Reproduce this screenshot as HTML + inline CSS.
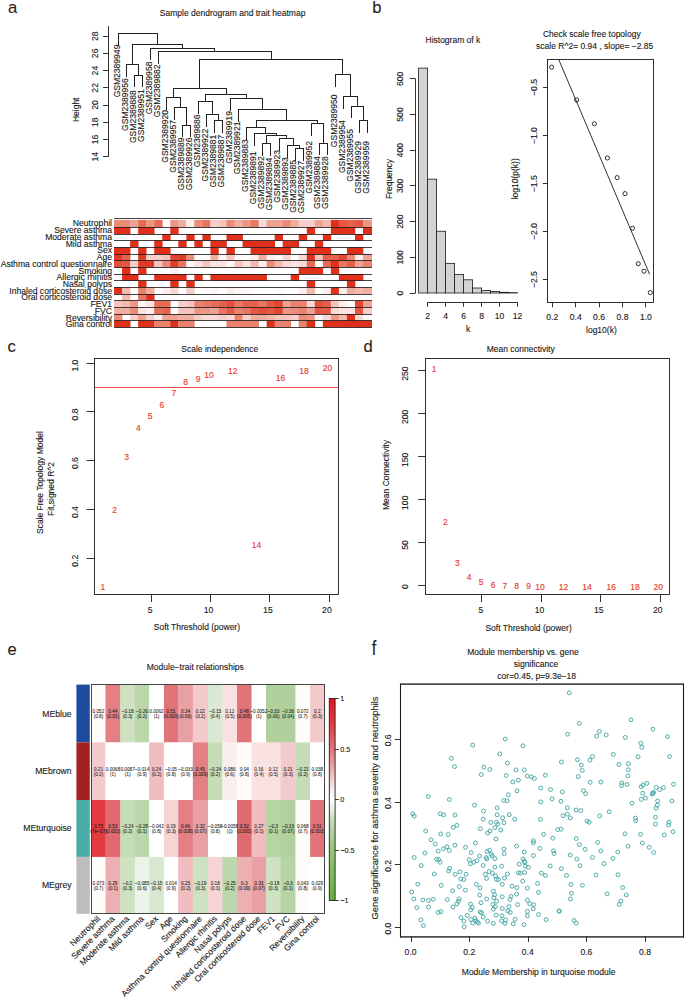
<!DOCTYPE html>
<html><head><meta charset="utf-8"><style>
html,body{margin:0;padding:0;background:#fff;}
svg{display:block;}
text{font-family:"Liberation Sans", sans-serif;}
</style></head><body>
<svg width="685" height="998" viewBox="0 0 685 998">
<rect width="685" height="998" fill="#fff"/>
<g fill="#2d1e19" stroke="#2d1e19" stroke-width="0.12" font-size="16.6">
<text x="7.9" y="13.0">a</text>
<text x="372.3" y="12.8">b</text>
<text x="7.6" y="352.2">c</text>
<text x="363.5" y="352.0">d</text>
<text x="7.5" y="655.2">e</text>
<text x="371.8" y="0" transform="translate(0 654.9) scale(1 1.24)">f</text>
</g>
<text x="232.60" y="12.80" font-size="8.5" text-anchor="middle" dominant-baseline="central" fill="#1a1a1a" stroke="#1a1a1a" stroke-width="0.12">Sample dendrogram and trait heatmap</text>
<line x1="108.50" y1="26.10" x2="108.50" y2="156.80" stroke="#1a1a1a" stroke-width="0.9"/>
<line x1="103.10" y1="156.50" x2="108.50" y2="156.50" stroke="#1a1a1a" stroke-width="0.9"/>
<text x="94.60" y="156.80" font-size="8.6" text-anchor="middle" dominant-baseline="central" fill="#1a1a1a" stroke="#1a1a1a" stroke-width="0.12" transform="rotate(-90 94.60 156.80)">14</text>
<line x1="103.10" y1="139.50" x2="108.50" y2="139.50" stroke="#1a1a1a" stroke-width="0.9"/>
<text x="94.60" y="139.56" font-size="8.6" text-anchor="middle" dominant-baseline="central" fill="#1a1a1a" stroke="#1a1a1a" stroke-width="0.12" transform="rotate(-90 94.60 139.56)">16</text>
<line x1="103.10" y1="122.50" x2="108.50" y2="122.50" stroke="#1a1a1a" stroke-width="0.9"/>
<text x="94.60" y="122.32" font-size="8.6" text-anchor="middle" dominant-baseline="central" fill="#1a1a1a" stroke="#1a1a1a" stroke-width="0.12" transform="rotate(-90 94.60 122.32)">18</text>
<line x1="103.10" y1="105.50" x2="108.50" y2="105.50" stroke="#1a1a1a" stroke-width="0.9"/>
<text x="94.60" y="105.08" font-size="8.6" text-anchor="middle" dominant-baseline="central" fill="#1a1a1a" stroke="#1a1a1a" stroke-width="0.12" transform="rotate(-90 94.60 105.08)">20</text>
<line x1="103.10" y1="87.50" x2="108.50" y2="87.50" stroke="#1a1a1a" stroke-width="0.9"/>
<text x="94.60" y="87.84" font-size="8.6" text-anchor="middle" dominant-baseline="central" fill="#1a1a1a" stroke="#1a1a1a" stroke-width="0.12" transform="rotate(-90 94.60 87.84)">22</text>
<line x1="103.10" y1="70.50" x2="108.50" y2="70.50" stroke="#1a1a1a" stroke-width="0.9"/>
<text x="94.60" y="70.60" font-size="8.6" text-anchor="middle" dominant-baseline="central" fill="#1a1a1a" stroke="#1a1a1a" stroke-width="0.12" transform="rotate(-90 94.60 70.60)">24</text>
<line x1="103.10" y1="53.50" x2="108.50" y2="53.50" stroke="#1a1a1a" stroke-width="0.9"/>
<text x="94.60" y="53.36" font-size="8.6" text-anchor="middle" dominant-baseline="central" fill="#1a1a1a" stroke="#1a1a1a" stroke-width="0.12" transform="rotate(-90 94.60 53.36)">26</text>
<line x1="103.10" y1="36.50" x2="108.50" y2="36.50" stroke="#1a1a1a" stroke-width="0.9"/>
<text x="94.60" y="36.12" font-size="8.6" text-anchor="middle" dominant-baseline="central" fill="#1a1a1a" stroke="#1a1a1a" stroke-width="0.12" transform="rotate(-90 94.60 36.12)">28</text>
<text x="76.10" y="109.80" font-size="8.5" text-anchor="middle" dominant-baseline="central" fill="#1a1a1a" stroke="#1a1a1a" stroke-width="0.12" transform="rotate(-90 76.10 109.80)">Height</text>
<path d="M118.50 33.50L118.50 45.50 M126.50 64.50L126.50 76.50 M134.50 75.50L134.50 86.50 M142.50 75.50L142.50 86.50 M134.50 75.50L142.50 75.50 M138.50 64.50L138.50 75.50 M126.50 64.50L138.50 64.50 M132.50 44.50L132.50 64.50 M150.50 48.50L150.50 59.50 M158.50 51.50L158.50 63.50 M166.50 97.50L166.50 109.50 M174.50 107.50L174.50 119.50 M182.50 125.50L182.50 136.50 M190.50 125.50L190.50 136.50 M182.50 125.50L190.50 125.50 M186.50 107.50L186.50 125.50 M174.50 107.50L186.50 107.50 M180.50 97.50L180.50 107.50 M166.50 97.50L180.50 97.50 M173.50 88.50L173.50 97.50 M198.50 101.50L198.50 113.50 M206.50 114.50L206.50 126.50 M214.50 120.50L214.50 132.50 M222.50 120.50L222.50 132.50 M214.50 120.50L222.50 120.50 M218.50 114.50L218.50 120.50 M206.50 114.50L218.50 114.50 M212.50 101.50L212.50 114.50 M198.50 101.50L212.50 101.50 M205.50 94.50L205.50 101.50 M230.50 98.50L230.50 110.50 M238.50 109.50L238.50 121.50 M246.50 127.50L246.50 139.50 M254.50 133.50L254.50 145.50 M262.50 143.50L262.50 155.50 M270.50 143.50L270.50 155.50 M262.50 143.50L270.50 143.50 M266.50 135.50L266.50 143.50 M279.50 138.50L279.50 150.50 M287.50 145.50L287.50 157.50 M295.50 148.50L295.50 160.50 M303.50 148.50L303.50 160.50 M295.50 148.50L303.50 148.50 M299.50 145.50L299.50 148.50 M287.50 145.50L299.50 145.50 M293.50 138.50L293.50 145.50 M279.50 138.50L293.50 138.50 M286.50 135.50L286.50 138.50 M266.50 135.50L286.50 135.50 M276.50 133.50L276.50 135.50 M254.50 133.50L276.50 133.50 M265.50 127.50L265.50 133.50 M246.50 127.50L265.50 127.50 M256.50 120.50L256.50 127.50 M311.50 123.50L311.50 135.50 M319.50 143.50L319.50 154.50 M327.50 143.50L327.50 154.50 M319.50 143.50L327.50 143.50 M323.50 123.50L323.50 143.50 M311.50 123.50L323.50 123.50 M317.50 120.50L317.50 123.50 M256.50 120.50L317.50 120.50 M286.50 109.50L286.50 120.50 M238.50 109.50L286.50 109.50 M262.50 98.50L262.50 109.50 M230.50 98.50L262.50 98.50 M246.50 94.50L246.50 98.50 M205.50 94.50L246.50 94.50 M226.50 88.50L226.50 94.50 M173.50 88.50L226.50 88.50 M199.50 59.50L199.50 88.50 M335.50 74.50L335.50 86.50 M343.50 96.50L343.50 108.50 M351.50 106.50L351.50 117.50 M359.50 120.50L359.50 132.50 M367.50 120.50L367.50 132.50 M359.50 120.50L367.50 120.50 M363.50 106.50L363.50 120.50 M351.50 106.50L363.50 106.50 M357.50 96.50L357.50 106.50 M343.50 96.50L357.50 96.50 M350.50 74.50L350.50 96.50 M335.50 74.50L350.50 74.50 M342.50 59.50L342.50 74.50 M199.50 59.50L342.50 59.50 M271.50 51.50L271.50 59.50 M158.50 51.50L271.50 51.50 M214.50 48.50L214.50 51.50 M150.50 48.50L214.50 48.50 M182.50 44.50L182.50 48.50 M132.50 44.50L182.50 44.50 M157.50 33.50L157.50 44.50 M118.50 33.50L157.50 33.50" stroke="#222" stroke-width="1.0" fill="none" stroke-linecap="square"/>
<text x="116.70" y="44.60" font-size="8.55" text-anchor="end" dominant-baseline="central" fill="#1a1a1a" stroke="#1a1a1a" stroke-width="0.12" transform="rotate(-90 116.70 44.60)">GSM2389949</text>
<text x="124.73" y="78.20" font-size="8.55" text-anchor="end" dominant-baseline="central" fill="#1a1a1a" stroke="#1a1a1a" stroke-width="0.12" transform="rotate(-90 124.73 78.20)">GSM2389956</text>
<text x="132.76" y="90.30" font-size="8.55" text-anchor="end" dominant-baseline="central" fill="#1a1a1a" stroke="#1a1a1a" stroke-width="0.12" transform="rotate(-90 132.76 90.30)">GSM2389888</text>
<text x="140.79" y="89.20" font-size="8.55" text-anchor="end" dominant-baseline="central" fill="#1a1a1a" stroke="#1a1a1a" stroke-width="0.12" transform="rotate(-90 140.79 89.20)">GSM2389951</text>
<text x="148.82" y="61.60" font-size="8.55" text-anchor="end" dominant-baseline="central" fill="#1a1a1a" stroke="#1a1a1a" stroke-width="0.12" transform="rotate(-90 148.82 61.60)">GSM2389958</text>
<text x="156.85" y="64.40" font-size="8.55" text-anchor="end" dominant-baseline="central" fill="#1a1a1a" stroke="#1a1a1a" stroke-width="0.12" transform="rotate(-90 156.85 64.40)">GSM2389882</text>
<text x="164.88" y="110.00" font-size="8.55" text-anchor="end" dominant-baseline="central" fill="#1a1a1a" stroke="#1a1a1a" stroke-width="0.12" transform="rotate(-90 164.88 110.00)">GSM2389920</text>
<text x="172.91" y="119.90" font-size="8.55" text-anchor="end" dominant-baseline="central" fill="#1a1a1a" stroke="#1a1a1a" stroke-width="0.12" transform="rotate(-90 172.91 119.90)">GSM2389957</text>
<text x="180.94" y="137.60" font-size="8.55" text-anchor="end" dominant-baseline="central" fill="#1a1a1a" stroke="#1a1a1a" stroke-width="0.12" transform="rotate(-90 180.94 137.60)">GSM2389889</text>
<text x="188.97" y="137.60" font-size="8.55" text-anchor="end" dominant-baseline="central" fill="#1a1a1a" stroke="#1a1a1a" stroke-width="0.12" transform="rotate(-90 188.97 137.60)">GSM2389926</text>
<text x="197.00" y="114.40" font-size="8.55" text-anchor="end" dominant-baseline="central" fill="#1a1a1a" stroke="#1a1a1a" stroke-width="0.12" transform="rotate(-90 197.00 114.40)">GSM2389886</text>
<text x="205.03" y="128.70" font-size="8.55" text-anchor="end" dominant-baseline="central" fill="#1a1a1a" stroke="#1a1a1a" stroke-width="0.12" transform="rotate(-90 205.03 128.70)">GSM2389922</text>
<text x="213.06" y="134.80" font-size="8.55" text-anchor="end" dominant-baseline="central" fill="#1a1a1a" stroke="#1a1a1a" stroke-width="0.12" transform="rotate(-90 213.06 134.80)">GSM2389881</text>
<text x="221.09" y="134.80" font-size="8.55" text-anchor="end" dominant-baseline="central" fill="#1a1a1a" stroke="#1a1a1a" stroke-width="0.12" transform="rotate(-90 221.09 134.80)">GSM2389887</text>
<text x="229.12" y="111.10" font-size="8.55" text-anchor="end" dominant-baseline="central" fill="#1a1a1a" stroke="#1a1a1a" stroke-width="0.12" transform="rotate(-90 229.12 111.10)">GSM2389919</text>
<text x="237.15" y="121.60" font-size="8.55" text-anchor="end" dominant-baseline="central" fill="#1a1a1a" stroke="#1a1a1a" stroke-width="0.12" transform="rotate(-90 237.15 121.60)">GSM2389921</text>
<text x="245.18" y="139.20" font-size="8.55" text-anchor="end" dominant-baseline="central" fill="#1a1a1a" stroke="#1a1a1a" stroke-width="0.12" transform="rotate(-90 245.18 139.20)">GSM2389883</text>
<text x="253.21" y="151.50" font-size="8.55" text-anchor="end" dominant-baseline="central" fill="#1a1a1a" stroke="#1a1a1a" stroke-width="0.12" transform="rotate(-90 253.21 151.50)">GSM2389891</text>
<text x="261.24" y="156.30" font-size="8.55" text-anchor="end" dominant-baseline="central" fill="#1a1a1a" stroke="#1a1a1a" stroke-width="0.12" transform="rotate(-90 261.24 156.30)">GSM2389892</text>
<text x="269.27" y="157.70" font-size="8.55" text-anchor="end" dominant-baseline="central" fill="#1a1a1a" stroke="#1a1a1a" stroke-width="0.12" transform="rotate(-90 269.27 157.70)">GSM2389894</text>
<text x="277.30" y="150.10" font-size="8.55" text-anchor="end" dominant-baseline="central" fill="#1a1a1a" stroke="#1a1a1a" stroke-width="0.12" transform="rotate(-90 277.30 150.10)">GSM2389923</text>
<text x="285.33" y="157.20" font-size="8.55" text-anchor="end" dominant-baseline="central" fill="#1a1a1a" stroke="#1a1a1a" stroke-width="0.12" transform="rotate(-90 285.33 157.20)">GSM2389893</text>
<text x="293.36" y="160.10" font-size="8.55" text-anchor="end" dominant-baseline="central" fill="#1a1a1a" stroke="#1a1a1a" stroke-width="0.12" transform="rotate(-90 293.36 160.10)">GSM2389885</text>
<text x="301.39" y="160.60" font-size="8.55" text-anchor="end" dominant-baseline="central" fill="#1a1a1a" stroke="#1a1a1a" stroke-width="0.12" transform="rotate(-90 301.39 160.60)">GSM2389927</text>
<text x="309.42" y="141.00" font-size="8.55" text-anchor="end" dominant-baseline="central" fill="#1a1a1a" stroke="#1a1a1a" stroke-width="0.12" transform="rotate(-90 309.42 141.00)">GSM2389952</text>
<text x="317.45" y="156.30" font-size="8.55" text-anchor="end" dominant-baseline="central" fill="#1a1a1a" stroke="#1a1a1a" stroke-width="0.12" transform="rotate(-90 317.45 156.30)">GSM2389884</text>
<text x="325.48" y="156.30" font-size="8.55" text-anchor="end" dominant-baseline="central" fill="#1a1a1a" stroke="#1a1a1a" stroke-width="0.12" transform="rotate(-90 325.48 156.30)">GSM2389928</text>
<text x="333.51" y="94.40" font-size="8.55" text-anchor="end" dominant-baseline="central" fill="#1a1a1a" stroke="#1a1a1a" stroke-width="0.12" transform="rotate(-90 333.51 94.40)">GSM2389950</text>
<text x="341.54" y="120.30" font-size="8.55" text-anchor="end" dominant-baseline="central" fill="#1a1a1a" stroke="#1a1a1a" stroke-width="0.12" transform="rotate(-90 341.54 120.30)">GSM2389954</text>
<text x="349.57" y="129.00" font-size="8.55" text-anchor="end" dominant-baseline="central" fill="#1a1a1a" stroke="#1a1a1a" stroke-width="0.12" transform="rotate(-90 349.57 129.00)">GSM2389955</text>
<text x="357.60" y="141.10" font-size="8.55" text-anchor="end" dominant-baseline="central" fill="#1a1a1a" stroke="#1a1a1a" stroke-width="0.12" transform="rotate(-90 357.60 141.10)">GSM2389929</text>
<text x="365.63" y="141.10" font-size="8.55" text-anchor="end" dominant-baseline="central" fill="#1a1a1a" stroke="#1a1a1a" stroke-width="0.12" transform="rotate(-90 365.63 141.10)">GSM2389959</text>
<rect x="114.05" y="219.90" width="16.41" height="7.45" fill="rgb(234,140,120)"/>
<rect x="130.11" y="219.90" width="8.38" height="7.45" fill="rgb(238,162,147)"/>
<rect x="138.14" y="219.90" width="8.38" height="7.45" fill="rgb(231,108,86)"/>
<rect x="146.17" y="219.90" width="8.38" height="7.45" fill="rgb(236,151,134)"/>
<rect x="154.20" y="219.90" width="8.38" height="7.45" fill="rgb(231,108,86)"/>
<rect x="170.26" y="219.90" width="8.38" height="7.45" fill="rgb(236,151,134)"/>
<rect x="178.29" y="219.90" width="8.38" height="7.45" fill="rgb(240,174,161)"/>
<rect x="186.32" y="219.90" width="8.38" height="7.45" fill="rgb(252,238,236)"/>
<rect x="194.35" y="219.90" width="8.38" height="7.45" fill="rgb(234,140,120)"/>
<rect x="202.38" y="219.90" width="8.38" height="7.45" fill="rgb(232,118,98)"/>
<rect x="210.41" y="219.90" width="8.38" height="7.45" fill="rgb(247,207,202)"/>
<rect x="218.44" y="219.90" width="8.38" height="7.45" fill="rgb(245,196,188)"/>
<rect x="226.47" y="219.90" width="8.38" height="7.45" fill="rgb(234,140,120)"/>
<rect x="234.50" y="219.90" width="8.38" height="7.45" fill="rgb(240,174,161)"/>
<rect x="242.53" y="219.90" width="8.38" height="7.45" fill="rgb(236,151,134)"/>
<rect x="250.56" y="219.90" width="8.38" height="7.45" fill="rgb(232,118,98)"/>
<rect x="258.59" y="219.90" width="8.38" height="7.45" fill="rgb(249,217,213)"/>
<rect x="266.62" y="219.90" width="16.41" height="7.45" fill="rgb(238,162,147)"/>
<rect x="282.68" y="219.90" width="8.38" height="7.45" fill="rgb(234,140,120)"/>
<rect x="290.71" y="219.90" width="8.38" height="7.45" fill="rgb(240,174,161)"/>
<rect x="298.74" y="219.90" width="16.41" height="7.45" fill="rgb(247,207,202)"/>
<rect x="314.80" y="219.90" width="8.38" height="7.45" fill="rgb(238,162,147)"/>
<rect x="322.83" y="219.90" width="8.38" height="7.45" fill="rgb(243,185,175)"/>
<rect x="330.86" y="219.90" width="8.38" height="7.45" fill="rgb(224,48,28)"/>
<rect x="338.89" y="219.90" width="8.38" height="7.45" fill="rgb(229,87,66)"/>
<rect x="346.92" y="219.90" width="8.38" height="7.45" fill="rgb(230,97,75)"/>
<rect x="354.95" y="219.90" width="8.38" height="7.45" fill="rgb(229,87,66)"/>
<rect x="362.98" y="219.90" width="9.02" height="7.45" fill="rgb(236,151,134)"/>
<text x="112.00" y="223.03" font-size="8.6" text-anchor="end" dominant-baseline="central" fill="#1a1a1a" stroke="#1a1a1a" stroke-width="0.12">Neutrophil</text>
<rect x="114.05" y="227.35" width="16.41" height="6.67" fill="rgb(224,48,28)"/>
<rect x="138.14" y="227.35" width="16.41" height="6.67" fill="rgb(224,48,28)"/>
<rect x="170.26" y="227.35" width="8.38" height="6.67" fill="rgb(224,48,28)"/>
<rect x="306.77" y="227.35" width="8.38" height="6.67" fill="rgb(224,48,28)"/>
<rect x="330.86" y="227.35" width="24.44" height="6.67" fill="rgb(224,48,28)"/>
<rect x="362.98" y="227.35" width="9.02" height="6.67" fill="rgb(224,48,28)"/>
<text x="112.00" y="230.14" font-size="8.6" text-anchor="end" dominant-baseline="central" fill="#1a1a1a" stroke="#1a1a1a" stroke-width="0.12">Severe asthma</text>
<rect x="162.23" y="234.02" width="8.38" height="6.67" fill="rgb(224,48,28)"/>
<rect x="186.32" y="234.02" width="8.38" height="6.67" fill="rgb(224,48,28)"/>
<rect x="202.38" y="234.02" width="8.38" height="6.67" fill="rgb(224,48,28)"/>
<rect x="226.47" y="234.02" width="16.41" height="6.67" fill="rgb(224,48,28)"/>
<rect x="274.65" y="234.02" width="8.38" height="6.67" fill="rgb(224,48,28)"/>
<rect x="298.74" y="234.02" width="8.38" height="6.67" fill="rgb(224,48,28)"/>
<rect x="322.83" y="234.02" width="8.38" height="6.67" fill="rgb(224,48,28)"/>
<rect x="354.95" y="234.02" width="8.38" height="6.67" fill="rgb(224,48,28)"/>
<text x="112.00" y="236.87" font-size="8.6" text-anchor="end" dominant-baseline="central" fill="#1a1a1a" stroke="#1a1a1a" stroke-width="0.12">Moderate asthma</text>
<rect x="130.11" y="240.68" width="8.38" height="6.67" fill="rgb(224,48,28)"/>
<rect x="154.20" y="240.68" width="8.38" height="6.67" fill="rgb(224,48,28)"/>
<rect x="178.29" y="240.68" width="8.38" height="6.67" fill="rgb(224,48,28)"/>
<rect x="194.35" y="240.68" width="8.38" height="6.67" fill="rgb(224,48,28)"/>
<rect x="210.41" y="240.68" width="16.41" height="6.67" fill="rgb(224,48,28)"/>
<rect x="242.53" y="240.68" width="32.47" height="6.67" fill="rgb(224,48,28)"/>
<rect x="282.68" y="240.68" width="16.41" height="6.67" fill="rgb(224,48,28)"/>
<rect x="314.80" y="240.68" width="8.38" height="6.67" fill="rgb(224,48,28)"/>
<text x="112.00" y="243.60" font-size="8.6" text-anchor="end" dominant-baseline="central" fill="#1a1a1a" stroke="#1a1a1a" stroke-width="0.12">Mild asthma</text>
<rect x="114.05" y="247.35" width="16.41" height="6.67" fill="rgb(224,48,28)"/>
<rect x="138.14" y="247.35" width="8.38" height="6.67" fill="rgb(224,48,28)"/>
<rect x="154.20" y="247.35" width="16.41" height="6.67" fill="rgb(224,48,28)"/>
<rect x="210.41" y="247.35" width="8.38" height="6.67" fill="rgb(224,48,28)"/>
<rect x="226.47" y="247.35" width="8.38" height="6.67" fill="rgb(224,48,28)"/>
<rect x="250.56" y="247.35" width="40.50" height="6.67" fill="rgb(224,48,28)"/>
<rect x="306.77" y="247.35" width="24.44" height="6.67" fill="rgb(224,48,28)"/>
<rect x="346.92" y="247.35" width="16.41" height="6.67" fill="rgb(224,48,28)"/>
<text x="112.00" y="250.32" font-size="8.6" text-anchor="end" dominant-baseline="central" fill="#1a1a1a" stroke="#1a1a1a" stroke-width="0.12">Sex</text>
<rect x="114.05" y="254.02" width="8.38" height="6.67" fill="rgb(225,58,37)"/>
<rect x="122.08" y="254.02" width="8.38" height="6.67" fill="rgb(230,97,75)"/>
<rect x="138.14" y="254.02" width="8.38" height="6.67" fill="rgb(225,58,37)"/>
<rect x="146.17" y="254.02" width="16.41" height="6.67" fill="rgb(247,207,202)"/>
<rect x="162.23" y="254.02" width="8.38" height="6.67" fill="rgb(245,196,188)"/>
<rect x="170.26" y="254.02" width="8.38" height="6.67" fill="rgb(226,68,47)"/>
<rect x="178.29" y="254.02" width="8.38" height="6.67" fill="rgb(225,58,37)"/>
<rect x="186.32" y="254.02" width="8.38" height="6.67" fill="rgb(234,140,120)"/>
<rect x="194.35" y="254.02" width="8.38" height="6.67" fill="rgb(254,252,251)"/>
<rect x="210.41" y="254.02" width="8.38" height="6.67" fill="rgb(240,174,161)"/>
<rect x="218.44" y="254.02" width="8.38" height="6.67" fill="rgb(254,246,246)"/>
<rect x="226.47" y="254.02" width="8.38" height="6.67" fill="rgb(245,196,188)"/>
<rect x="234.50" y="254.02" width="8.38" height="6.67" fill="rgb(254,250,249)"/>
<rect x="250.56" y="254.02" width="8.38" height="6.67" fill="rgb(252,238,236)"/>
<rect x="258.59" y="254.02" width="8.38" height="6.67" fill="rgb(240,174,161)"/>
<rect x="266.62" y="254.02" width="8.38" height="6.67" fill="rgb(252,238,236)"/>
<rect x="274.65" y="254.02" width="8.38" height="6.67" fill="rgb(254,250,249)"/>
<rect x="282.68" y="254.02" width="8.38" height="6.67" fill="rgb(249,217,213)"/>
<rect x="298.74" y="254.02" width="8.38" height="6.67" fill="rgb(249,217,213)"/>
<rect x="306.77" y="254.02" width="8.38" height="6.67" fill="rgb(224,48,28)"/>
<rect x="314.80" y="254.02" width="8.38" height="6.67" fill="rgb(245,196,188)"/>
<rect x="322.83" y="254.02" width="16.41" height="6.67" fill="rgb(230,97,75)"/>
<rect x="338.89" y="254.02" width="8.38" height="6.67" fill="rgb(226,68,47)"/>
<rect x="346.92" y="254.02" width="8.38" height="6.67" fill="rgb(234,140,120)"/>
<rect x="354.95" y="254.02" width="8.38" height="6.67" fill="rgb(252,238,236)"/>
<rect x="362.98" y="254.02" width="9.02" height="6.67" fill="rgb(238,162,147)"/>
<text x="112.00" y="257.05" font-size="8.6" text-anchor="end" dominant-baseline="central" fill="#1a1a1a" stroke="#1a1a1a" stroke-width="0.12">Age</text>
<rect x="114.05" y="260.69" width="8.38" height="6.67" fill="rgb(228,77,56)"/>
<rect x="122.08" y="260.69" width="8.38" height="6.67" fill="rgb(229,87,66)"/>
<rect x="130.11" y="260.69" width="8.38" height="6.67" fill="rgb(247,207,202)"/>
<rect x="138.14" y="260.69" width="16.41" height="6.67" fill="rgb(225,58,37)"/>
<rect x="154.20" y="260.69" width="8.38" height="6.67" fill="rgb(245,196,188)"/>
<rect x="162.23" y="260.69" width="8.38" height="6.67" fill="rgb(234,140,120)"/>
<rect x="170.26" y="260.69" width="8.38" height="6.67" fill="rgb(225,58,37)"/>
<rect x="178.29" y="260.69" width="8.38" height="6.67" fill="rgb(232,118,98)"/>
<rect x="186.32" y="260.69" width="8.38" height="6.67" fill="rgb(254,246,246)"/>
<rect x="194.35" y="260.69" width="8.38" height="6.67" fill="rgb(250,228,225)"/>
<rect x="202.38" y="260.69" width="8.38" height="6.67" fill="rgb(245,196,188)"/>
<rect x="210.41" y="260.69" width="16.41" height="6.67" fill="rgb(250,228,225)"/>
<rect x="226.47" y="260.69" width="8.38" height="6.67" fill="rgb(254,246,246)"/>
<rect x="234.50" y="260.69" width="8.38" height="6.67" fill="rgb(245,196,188)"/>
<rect x="242.53" y="260.69" width="8.38" height="6.67" fill="rgb(250,228,225)"/>
<rect x="250.56" y="260.69" width="8.38" height="6.67" fill="rgb(243,185,175)"/>
<rect x="258.59" y="260.69" width="8.38" height="6.67" fill="rgb(252,238,236)"/>
<rect x="266.62" y="260.69" width="8.38" height="6.67" fill="rgb(234,140,120)"/>
<rect x="274.65" y="260.69" width="8.38" height="6.67" fill="rgb(243,185,175)"/>
<rect x="282.68" y="260.69" width="8.38" height="6.67" fill="rgb(249,217,213)"/>
<rect x="290.71" y="260.69" width="8.38" height="6.67" fill="rgb(250,228,225)"/>
<rect x="298.74" y="260.69" width="8.38" height="6.67" fill="rgb(249,217,213)"/>
<rect x="306.77" y="260.69" width="8.38" height="6.67" fill="rgb(231,108,86)"/>
<rect x="322.83" y="260.69" width="8.38" height="6.67" fill="rgb(231,108,86)"/>
<rect x="330.86" y="260.69" width="8.38" height="6.67" fill="rgb(224,48,28)"/>
<rect x="338.89" y="260.69" width="8.38" height="6.67" fill="rgb(232,118,98)"/>
<rect x="346.92" y="260.69" width="8.38" height="6.67" fill="rgb(230,97,75)"/>
<rect x="354.95" y="260.69" width="8.38" height="6.67" fill="rgb(238,162,147)"/>
<rect x="362.98" y="260.69" width="9.02" height="6.67" fill="rgb(233,129,109)"/>
<text x="112.00" y="263.78" font-size="8.6" text-anchor="end" dominant-baseline="central" fill="#1a1a1a" stroke="#1a1a1a" stroke-width="0.12">Asthma control questionnaire</text>
<rect x="122.08" y="267.35" width="8.38" height="6.67" fill="rgb(224,48,28)"/>
<rect x="138.14" y="267.35" width="8.38" height="6.67" fill="rgb(224,48,28)"/>
<rect x="170.26" y="267.35" width="8.38" height="6.67" fill="rgb(252,238,236)"/>
<rect x="298.74" y="267.35" width="24.44" height="6.67" fill="rgb(224,48,28)"/>
<rect x="330.86" y="267.35" width="8.38" height="6.67" fill="rgb(224,48,28)"/>
<text x="112.00" y="270.51" font-size="8.6" text-anchor="end" dominant-baseline="central" fill="#1a1a1a" stroke="#1a1a1a" stroke-width="0.12">Smoking</text>
<rect x="122.08" y="274.02" width="16.41" height="6.67" fill="rgb(224,48,28)"/>
<rect x="154.20" y="274.02" width="32.47" height="6.67" fill="rgb(224,48,28)"/>
<rect x="194.35" y="274.02" width="8.38" height="6.67" fill="rgb(224,48,28)"/>
<rect x="210.41" y="274.02" width="56.56" height="6.67" fill="rgb(224,48,28)"/>
<rect x="290.71" y="274.02" width="8.38" height="6.67" fill="rgb(224,48,28)"/>
<rect x="338.89" y="274.02" width="24.44" height="6.67" fill="rgb(224,48,28)"/>
<text x="112.00" y="277.23" font-size="8.6" text-anchor="end" dominant-baseline="central" fill="#1a1a1a" stroke="#1a1a1a" stroke-width="0.12">Allergic rhinitis</text>
<rect x="138.14" y="280.69" width="8.38" height="6.67" fill="rgb(224,48,28)"/>
<rect x="170.26" y="280.69" width="8.38" height="6.67" fill="rgb(224,48,28)"/>
<rect x="186.32" y="280.69" width="8.38" height="6.67" fill="rgb(224,48,28)"/>
<rect x="306.77" y="280.69" width="8.38" height="6.67" fill="rgb(224,48,28)"/>
<rect x="346.92" y="280.69" width="8.38" height="6.67" fill="rgb(224,48,28)"/>
<text x="112.00" y="283.96" font-size="8.6" text-anchor="end" dominant-baseline="central" fill="#1a1a1a" stroke="#1a1a1a" stroke-width="0.12">Nasal polyps</text>
<rect x="114.05" y="287.35" width="8.38" height="6.67" fill="rgb(224,48,28)"/>
<rect x="122.08" y="287.35" width="8.38" height="6.67" fill="rgb(243,185,175)"/>
<rect x="138.14" y="287.35" width="8.38" height="6.67" fill="rgb(233,129,109)"/>
<rect x="146.17" y="287.35" width="8.38" height="6.67" fill="rgb(240,174,161)"/>
<rect x="162.23" y="287.35" width="8.38" height="6.67" fill="rgb(252,238,236)"/>
<rect x="170.26" y="287.35" width="8.38" height="6.67" fill="rgb(249,217,213)"/>
<rect x="186.32" y="287.35" width="8.38" height="6.67" fill="rgb(247,207,202)"/>
<rect x="202.38" y="287.35" width="8.38" height="6.67" fill="rgb(254,250,249)"/>
<rect x="210.41" y="287.35" width="8.38" height="6.67" fill="rgb(254,246,246)"/>
<rect x="226.47" y="287.35" width="8.38" height="6.67" fill="rgb(252,238,236)"/>
<rect x="234.50" y="287.35" width="8.38" height="6.67" fill="rgb(254,246,246)"/>
<rect x="242.53" y="287.35" width="8.38" height="6.67" fill="rgb(254,250,249)"/>
<rect x="274.65" y="287.35" width="8.38" height="6.67" fill="rgb(254,250,249)"/>
<rect x="298.74" y="287.35" width="8.38" height="6.67" fill="rgb(252,238,236)"/>
<rect x="306.77" y="287.35" width="8.38" height="6.67" fill="rgb(243,185,175)"/>
<rect x="322.83" y="287.35" width="8.38" height="6.67" fill="rgb(252,238,236)"/>
<rect x="330.86" y="287.35" width="8.38" height="6.67" fill="rgb(224,48,28)"/>
<rect x="338.89" y="287.35" width="8.38" height="6.67" fill="rgb(252,238,236)"/>
<rect x="346.92" y="287.35" width="8.38" height="6.67" fill="rgb(240,174,161)"/>
<rect x="354.95" y="287.35" width="8.38" height="6.67" fill="rgb(243,185,175)"/>
<rect x="362.98" y="287.35" width="9.02" height="6.67" fill="rgb(240,174,161)"/>
<text x="112.00" y="290.69" font-size="8.6" text-anchor="end" dominant-baseline="central" fill="#1a1a1a" stroke="#1a1a1a" stroke-width="0.12">Inhaled corticosteroid dose</text>
<rect x="122.08" y="294.02" width="8.38" height="6.67" fill="rgb(243,185,175)"/>
<rect x="138.14" y="294.02" width="8.38" height="6.67" fill="rgb(232,118,98)"/>
<rect x="146.17" y="294.02" width="8.38" height="6.67" fill="rgb(224,48,28)"/>
<text x="112.00" y="297.41" font-size="8.6" text-anchor="end" dominant-baseline="central" fill="#1a1a1a" stroke="#1a1a1a" stroke-width="0.12">Oral corticosteroid dose</text>
<rect x="114.05" y="300.69" width="8.38" height="6.67" fill="rgb(245,196,188)"/>
<rect x="122.08" y="300.69" width="8.38" height="6.67" fill="rgb(243,185,175)"/>
<rect x="130.11" y="300.69" width="8.38" height="6.67" fill="rgb(236,151,134)"/>
<rect x="138.14" y="300.69" width="8.38" height="6.67" fill="rgb(254,246,246)"/>
<rect x="146.17" y="300.69" width="8.38" height="6.67" fill="rgb(250,228,225)"/>
<rect x="154.20" y="300.69" width="16.41" height="6.67" fill="rgb(231,108,86)"/>
<rect x="178.29" y="300.69" width="8.38" height="6.67" fill="rgb(247,207,202)"/>
<rect x="186.32" y="300.69" width="8.38" height="6.67" fill="rgb(245,196,188)"/>
<rect x="194.35" y="300.69" width="8.38" height="6.67" fill="rgb(233,129,109)"/>
<rect x="202.38" y="300.69" width="8.38" height="6.67" fill="rgb(232,118,98)"/>
<rect x="210.41" y="300.69" width="8.38" height="6.67" fill="rgb(231,108,86)"/>
<rect x="218.44" y="300.69" width="8.38" height="6.67" fill="rgb(230,97,75)"/>
<rect x="226.47" y="300.69" width="8.38" height="6.67" fill="rgb(228,77,56)"/>
<rect x="234.50" y="300.69" width="8.38" height="6.67" fill="rgb(232,118,98)"/>
<rect x="242.53" y="300.69" width="16.41" height="6.67" fill="rgb(230,97,75)"/>
<rect x="258.59" y="300.69" width="8.38" height="6.67" fill="rgb(232,118,98)"/>
<rect x="266.62" y="300.69" width="8.38" height="6.67" fill="rgb(229,87,66)"/>
<rect x="274.65" y="300.69" width="8.38" height="6.67" fill="rgb(226,68,47)"/>
<rect x="282.68" y="300.69" width="8.38" height="6.67" fill="rgb(238,162,147)"/>
<rect x="290.71" y="300.69" width="16.41" height="6.67" fill="rgb(233,129,109)"/>
<rect x="306.77" y="300.69" width="8.38" height="6.67" fill="rgb(249,217,213)"/>
<rect x="314.80" y="300.69" width="8.38" height="6.67" fill="rgb(228,77,56)"/>
<rect x="322.83" y="300.69" width="8.38" height="6.67" fill="rgb(230,97,75)"/>
<rect x="330.86" y="300.69" width="8.38" height="6.67" fill="rgb(245,196,188)"/>
<rect x="338.89" y="300.69" width="8.38" height="6.67" fill="rgb(252,238,236)"/>
<rect x="354.95" y="300.69" width="8.38" height="6.67" fill="rgb(226,68,47)"/>
<rect x="362.98" y="300.69" width="9.02" height="6.67" fill="rgb(238,162,147)"/>
<text x="112.00" y="304.14" font-size="8.6" text-anchor="end" dominant-baseline="central" fill="#1a1a1a" stroke="#1a1a1a" stroke-width="0.12">FEV1</text>
<rect x="114.05" y="307.35" width="16.41" height="6.67" fill="rgb(240,174,161)"/>
<rect x="130.11" y="307.35" width="8.38" height="6.67" fill="rgb(234,140,120)"/>
<rect x="138.14" y="307.35" width="8.38" height="6.67" fill="rgb(250,228,225)"/>
<rect x="146.17" y="307.35" width="8.38" height="6.67" fill="rgb(252,238,236)"/>
<rect x="154.20" y="307.35" width="8.38" height="6.67" fill="rgb(231,108,86)"/>
<rect x="162.23" y="307.35" width="8.38" height="6.67" fill="rgb(230,97,75)"/>
<rect x="178.29" y="307.35" width="16.41" height="6.67" fill="rgb(245,196,188)"/>
<rect x="194.35" y="307.35" width="16.41" height="6.67" fill="rgb(236,151,134)"/>
<rect x="210.41" y="307.35" width="8.38" height="6.67" fill="rgb(238,162,147)"/>
<rect x="218.44" y="307.35" width="8.38" height="6.67" fill="rgb(232,118,98)"/>
<rect x="226.47" y="307.35" width="8.38" height="6.67" fill="rgb(229,87,66)"/>
<rect x="234.50" y="307.35" width="8.38" height="6.67" fill="rgb(233,129,109)"/>
<rect x="242.53" y="307.35" width="8.38" height="6.67" fill="rgb(232,118,98)"/>
<rect x="250.56" y="307.35" width="8.38" height="6.67" fill="rgb(229,87,66)"/>
<rect x="258.59" y="307.35" width="8.38" height="6.67" fill="rgb(228,77,56)"/>
<rect x="266.62" y="307.35" width="8.38" height="6.67" fill="rgb(229,87,66)"/>
<rect x="274.65" y="307.35" width="8.38" height="6.67" fill="rgb(226,68,47)"/>
<rect x="282.68" y="307.35" width="8.38" height="6.67" fill="rgb(236,151,134)"/>
<rect x="290.71" y="307.35" width="8.38" height="6.67" fill="rgb(234,140,120)"/>
<rect x="298.74" y="307.35" width="8.38" height="6.67" fill="rgb(233,129,109)"/>
<rect x="306.77" y="307.35" width="8.38" height="6.67" fill="rgb(238,162,147)"/>
<rect x="314.80" y="307.35" width="16.41" height="6.67" fill="rgb(229,87,66)"/>
<rect x="330.86" y="307.35" width="8.38" height="6.67" fill="rgb(249,217,213)"/>
<rect x="338.89" y="307.35" width="16.41" height="6.67" fill="rgb(250,228,225)"/>
<rect x="354.95" y="307.35" width="8.38" height="6.67" fill="rgb(229,87,66)"/>
<rect x="362.98" y="307.35" width="9.02" height="6.67" fill="rgb(247,207,202)"/>
<text x="112.00" y="310.87" font-size="8.6" text-anchor="end" dominant-baseline="central" fill="#1a1a1a" stroke="#1a1a1a" stroke-width="0.12">FVC</text>
<rect x="114.05" y="314.02" width="8.38" height="6.67" fill="rgb(234,140,120)"/>
<rect x="130.11" y="314.02" width="8.38" height="6.67" fill="rgb(247,207,202)"/>
<rect x="138.14" y="314.02" width="8.38" height="6.67" fill="rgb(238,162,147)"/>
<rect x="146.17" y="314.02" width="8.38" height="6.67" fill="rgb(247,207,202)"/>
<rect x="154.20" y="314.02" width="8.38" height="6.67" fill="rgb(252,238,236)"/>
<rect x="162.23" y="314.02" width="16.41" height="6.67" fill="rgb(238,162,147)"/>
<rect x="178.29" y="314.02" width="16.41" height="6.67" fill="rgb(240,174,161)"/>
<rect x="194.35" y="314.02" width="8.38" height="6.67" fill="rgb(247,207,202)"/>
<rect x="202.38" y="314.02" width="16.41" height="6.67" fill="rgb(249,217,213)"/>
<rect x="218.44" y="314.02" width="8.38" height="6.67" fill="rgb(247,207,202)"/>
<rect x="226.47" y="314.02" width="8.38" height="6.67" fill="rgb(249,217,213)"/>
<rect x="234.50" y="314.02" width="8.38" height="6.67" fill="rgb(233,129,109)"/>
<rect x="242.53" y="314.02" width="8.38" height="6.67" fill="rgb(247,207,202)"/>
<rect x="250.56" y="314.02" width="16.41" height="6.67" fill="rgb(240,174,161)"/>
<rect x="266.62" y="314.02" width="8.38" height="6.67" fill="rgb(243,185,175)"/>
<rect x="274.65" y="314.02" width="16.41" height="6.67" fill="rgb(245,196,188)"/>
<rect x="290.71" y="314.02" width="8.38" height="6.67" fill="rgb(247,207,202)"/>
<rect x="298.74" y="314.02" width="8.38" height="6.67" fill="rgb(234,140,120)"/>
<rect x="306.77" y="314.02" width="8.38" height="6.67" fill="rgb(236,151,134)"/>
<rect x="314.80" y="314.02" width="8.38" height="6.67" fill="rgb(254,246,246)"/>
<rect x="322.83" y="314.02" width="8.38" height="6.67" fill="rgb(249,217,213)"/>
<rect x="330.86" y="314.02" width="8.38" height="6.67" fill="rgb(236,151,134)"/>
<rect x="338.89" y="314.02" width="8.38" height="6.67" fill="rgb(243,185,175)"/>
<rect x="346.92" y="314.02" width="8.38" height="6.67" fill="rgb(224,48,28)"/>
<rect x="354.95" y="314.02" width="8.38" height="6.67" fill="rgb(249,217,213)"/>
<rect x="362.98" y="314.02" width="9.02" height="6.67" fill="rgb(254,250,249)"/>
<text x="112.00" y="317.59" font-size="8.6" text-anchor="end" dominant-baseline="central" fill="#1a1a1a" stroke="#1a1a1a" stroke-width="0.12">Reversibility</text>
<rect x="114.05" y="320.69" width="16.41" height="6.67" fill="rgb(224,48,28)"/>
<rect x="138.14" y="320.69" width="16.41" height="6.67" fill="rgb(224,48,28)"/>
<rect x="154.20" y="320.69" width="16.41" height="6.67" fill="rgb(233,129,109)"/>
<rect x="170.26" y="320.69" width="8.38" height="6.67" fill="rgb(224,48,28)"/>
<rect x="178.29" y="320.69" width="16.41" height="6.67" fill="rgb(233,129,109)"/>
<rect x="226.47" y="320.69" width="32.47" height="6.67" fill="rgb(233,129,109)"/>
<rect x="266.62" y="320.69" width="8.38" height="6.67" fill="rgb(224,48,28)"/>
<rect x="274.65" y="320.69" width="16.41" height="6.67" fill="rgb(233,129,109)"/>
<rect x="298.74" y="320.69" width="8.38" height="6.67" fill="rgb(233,129,109)"/>
<rect x="306.77" y="320.69" width="8.38" height="6.67" fill="rgb(224,48,28)"/>
<rect x="322.83" y="320.69" width="49.17" height="6.67" fill="rgb(224,48,28)"/>
<text x="112.00" y="324.32" font-size="8.6" text-anchor="end" dominant-baseline="central" fill="#1a1a1a" stroke="#1a1a1a" stroke-width="0.12">Gina control</text>
<line x1="114.05" y1="218.50" x2="372.00" y2="218.50" stroke="#111" stroke-width="0.8"/>
<line x1="114.05" y1="227.50" x2="372.00" y2="227.50" stroke="#111" stroke-width="0.8"/>
<line x1="114.05" y1="234.50" x2="372.00" y2="234.50" stroke="#111" stroke-width="0.8"/>
<line x1="114.05" y1="240.50" x2="372.00" y2="240.50" stroke="#111" stroke-width="0.8"/>
<line x1="114.05" y1="247.50" x2="372.00" y2="247.50" stroke="#111" stroke-width="0.8"/>
<line x1="114.05" y1="254.50" x2="372.00" y2="254.50" stroke="#111" stroke-width="0.8"/>
<line x1="114.05" y1="260.50" x2="372.00" y2="260.50" stroke="#111" stroke-width="0.8"/>
<line x1="114.05" y1="267.50" x2="372.00" y2="267.50" stroke="#111" stroke-width="0.8"/>
<line x1="114.05" y1="274.50" x2="372.00" y2="274.50" stroke="#111" stroke-width="0.8"/>
<line x1="114.05" y1="280.50" x2="372.00" y2="280.50" stroke="#111" stroke-width="0.8"/>
<line x1="114.05" y1="287.50" x2="372.00" y2="287.50" stroke="#111" stroke-width="0.8"/>
<line x1="114.05" y1="294.50" x2="372.00" y2="294.50" stroke="#111" stroke-width="0.8"/>
<line x1="114.05" y1="300.50" x2="372.00" y2="300.50" stroke="#111" stroke-width="0.8"/>
<line x1="114.05" y1="307.50" x2="372.00" y2="307.50" stroke="#111" stroke-width="0.8"/>
<line x1="114.05" y1="314.50" x2="372.00" y2="314.50" stroke="#111" stroke-width="0.8"/>
<line x1="114.05" y1="320.50" x2="372.00" y2="320.50" stroke="#111" stroke-width="0.8"/>
<line x1="114.05" y1="327.50" x2="372.00" y2="327.50" stroke="#111" stroke-width="0.8"/>
<text x="452.90" y="39.90" font-size="8.5" text-anchor="middle" dominant-baseline="central" fill="#1a1a1a" stroke="#1a1a1a" stroke-width="0.12">Histogram of k</text>
<rect x="418.60" y="68.09" width="9.00" height="224.91" fill="#d3d3d3" stroke="#1a1a1a" stroke-width="0.8"/>
<rect x="427.60" y="179.12" width="9.00" height="113.88" fill="#d3d3d3" stroke="#1a1a1a" stroke-width="0.8"/>
<rect x="436.60" y="231.24" width="9.00" height="61.76" fill="#d3d3d3" stroke="#1a1a1a" stroke-width="0.8"/>
<rect x="445.60" y="263.37" width="9.00" height="29.63" fill="#d3d3d3" stroke="#1a1a1a" stroke-width="0.8"/>
<rect x="454.60" y="274.44" width="9.00" height="18.56" fill="#d3d3d3" stroke="#1a1a1a" stroke-width="0.8"/>
<rect x="463.60" y="279.79" width="9.00" height="13.21" fill="#d3d3d3" stroke="#1a1a1a" stroke-width="0.8"/>
<rect x="472.60" y="288.00" width="9.00" height="5.00" fill="#d3d3d3" stroke="#1a1a1a" stroke-width="0.8"/>
<rect x="481.60" y="290.50" width="9.00" height="2.50" fill="#d3d3d3" stroke="#1a1a1a" stroke-width="0.8"/>
<rect x="490.60" y="291.39" width="9.00" height="1.61" fill="#d3d3d3" stroke="#1a1a1a" stroke-width="0.8"/>
<rect x="499.60" y="292.29" width="9.00" height="0.71" fill="#d3d3d3" stroke="#1a1a1a" stroke-width="0.8"/>
<rect x="508.60" y="292.64" width="9.00" height="0.36" fill="#d3d3d3" stroke="#1a1a1a" stroke-width="0.8"/>
<line x1="415.50" y1="293.00" x2="415.50" y2="78.80" stroke="#1a1a1a" stroke-width="0.9"/>
<line x1="409.80" y1="293.50" x2="415.50" y2="293.50" stroke="#1a1a1a" stroke-width="0.9"/>
<text x="400.30" y="293.00" font-size="8.6" text-anchor="middle" dominant-baseline="central" fill="#1a1a1a" stroke="#1a1a1a" stroke-width="0.12" transform="rotate(-90 400.30 293.00)">0</text>
<line x1="409.80" y1="257.50" x2="415.50" y2="257.50" stroke="#1a1a1a" stroke-width="0.9"/>
<text x="400.30" y="257.30" font-size="8.6" text-anchor="middle" dominant-baseline="central" fill="#1a1a1a" stroke="#1a1a1a" stroke-width="0.12" transform="rotate(-90 400.30 257.30)">100</text>
<line x1="409.80" y1="221.50" x2="415.50" y2="221.50" stroke="#1a1a1a" stroke-width="0.9"/>
<text x="400.30" y="221.60" font-size="8.6" text-anchor="middle" dominant-baseline="central" fill="#1a1a1a" stroke="#1a1a1a" stroke-width="0.12" transform="rotate(-90 400.30 221.60)">200</text>
<line x1="409.80" y1="185.50" x2="415.50" y2="185.50" stroke="#1a1a1a" stroke-width="0.9"/>
<text x="400.30" y="185.90" font-size="8.6" text-anchor="middle" dominant-baseline="central" fill="#1a1a1a" stroke="#1a1a1a" stroke-width="0.12" transform="rotate(-90 400.30 185.90)">300</text>
<line x1="409.80" y1="150.50" x2="415.50" y2="150.50" stroke="#1a1a1a" stroke-width="0.9"/>
<text x="400.30" y="150.20" font-size="8.6" text-anchor="middle" dominant-baseline="central" fill="#1a1a1a" stroke="#1a1a1a" stroke-width="0.12" transform="rotate(-90 400.30 150.20)">400</text>
<line x1="409.80" y1="114.50" x2="415.50" y2="114.50" stroke="#1a1a1a" stroke-width="0.9"/>
<text x="400.30" y="114.50" font-size="8.6" text-anchor="middle" dominant-baseline="central" fill="#1a1a1a" stroke="#1a1a1a" stroke-width="0.12" transform="rotate(-90 400.30 114.50)">500</text>
<line x1="409.80" y1="78.50" x2="415.50" y2="78.50" stroke="#1a1a1a" stroke-width="0.9"/>
<text x="400.30" y="78.80" font-size="8.6" text-anchor="middle" dominant-baseline="central" fill="#1a1a1a" stroke="#1a1a1a" stroke-width="0.12" transform="rotate(-90 400.30 78.80)">600</text>
<text x="388.50" y="179.00" font-size="8.5" text-anchor="middle" dominant-baseline="central" fill="#1a1a1a" stroke="#1a1a1a" stroke-width="0.12" transform="rotate(-90 388.50 179.00)">Frequency</text>
<line x1="427.60" y1="302.50" x2="517.60" y2="302.50" stroke="#1a1a1a" stroke-width="0.9"/>
<line x1="427.50" y1="302.20" x2="427.50" y2="306.80" stroke="#1a1a1a" stroke-width="0.9"/>
<text x="427.60" y="316.00" font-size="8.6" text-anchor="middle" dominant-baseline="central" fill="#1a1a1a" stroke="#1a1a1a" stroke-width="0.12">2</text>
<line x1="445.50" y1="302.20" x2="445.50" y2="306.80" stroke="#1a1a1a" stroke-width="0.9"/>
<text x="445.60" y="316.00" font-size="8.6" text-anchor="middle" dominant-baseline="central" fill="#1a1a1a" stroke="#1a1a1a" stroke-width="0.12">4</text>
<line x1="463.50" y1="302.20" x2="463.50" y2="306.80" stroke="#1a1a1a" stroke-width="0.9"/>
<text x="463.60" y="316.00" font-size="8.6" text-anchor="middle" dominant-baseline="central" fill="#1a1a1a" stroke="#1a1a1a" stroke-width="0.12">6</text>
<line x1="481.50" y1="302.20" x2="481.50" y2="306.80" stroke="#1a1a1a" stroke-width="0.9"/>
<text x="481.60" y="316.00" font-size="8.6" text-anchor="middle" dominant-baseline="central" fill="#1a1a1a" stroke="#1a1a1a" stroke-width="0.12">8</text>
<line x1="499.50" y1="302.20" x2="499.50" y2="306.80" stroke="#1a1a1a" stroke-width="0.9"/>
<text x="499.60" y="316.00" font-size="8.6" text-anchor="middle" dominant-baseline="central" fill="#1a1a1a" stroke="#1a1a1a" stroke-width="0.12">10</text>
<line x1="517.50" y1="302.20" x2="517.50" y2="306.80" stroke="#1a1a1a" stroke-width="0.9"/>
<text x="517.60" y="316.00" font-size="8.6" text-anchor="middle" dominant-baseline="central" fill="#1a1a1a" stroke="#1a1a1a" stroke-width="0.12">12</text>
<text x="468.20" y="329.20" font-size="8.5" text-anchor="middle" dominant-baseline="central" fill="#1a1a1a" stroke="#1a1a1a" stroke-width="0.12">k</text>
<text x="591.80" y="34.20" font-size="8.5" text-anchor="middle" dominant-baseline="central" fill="#1a1a1a" stroke="#1a1a1a" stroke-width="0.12">Check scale free topology</text>
<text x="594.70" y="45.70" font-size="8.5" text-anchor="middle" dominant-baseline="central" fill="#1a1a1a" stroke="#1a1a1a" stroke-width="0.12">scale R^2= 0.94 , slope= −2.85</text>
<rect x="547.50" y="59.50" width="106.00" height="243.00" fill="none" stroke="#1a1a1a" stroke-width="0.9"/>
<line x1="542.90" y1="87.50" x2="547.20" y2="87.50" stroke="#1a1a1a" stroke-width="0.9"/>
<text x="533.70" y="87.40" font-size="8.6" text-anchor="middle" dominant-baseline="central" fill="#1a1a1a" stroke="#1a1a1a" stroke-width="0.12" transform="rotate(-90 533.70 87.40)">−0.5</text>
<line x1="542.90" y1="135.50" x2="547.20" y2="135.50" stroke="#1a1a1a" stroke-width="0.9"/>
<text x="533.70" y="135.60" font-size="8.6" text-anchor="middle" dominant-baseline="central" fill="#1a1a1a" stroke="#1a1a1a" stroke-width="0.12" transform="rotate(-90 533.70 135.60)">−1.0</text>
<line x1="542.90" y1="183.50" x2="547.20" y2="183.50" stroke="#1a1a1a" stroke-width="0.9"/>
<text x="533.70" y="183.70" font-size="8.6" text-anchor="middle" dominant-baseline="central" fill="#1a1a1a" stroke="#1a1a1a" stroke-width="0.12" transform="rotate(-90 533.70 183.70)">−1.5</text>
<line x1="542.90" y1="231.50" x2="547.20" y2="231.50" stroke="#1a1a1a" stroke-width="0.9"/>
<text x="533.70" y="231.40" font-size="8.6" text-anchor="middle" dominant-baseline="central" fill="#1a1a1a" stroke="#1a1a1a" stroke-width="0.12" transform="rotate(-90 533.70 231.40)">−2.0</text>
<line x1="542.90" y1="279.50" x2="547.20" y2="279.50" stroke="#1a1a1a" stroke-width="0.9"/>
<text x="533.70" y="279.60" font-size="8.6" text-anchor="middle" dominant-baseline="central" fill="#1a1a1a" stroke="#1a1a1a" stroke-width="0.12" transform="rotate(-90 533.70 279.60)">−2.5</text>
<text x="515.10" y="178.80" font-size="8.5" text-anchor="middle" dominant-baseline="central" fill="#1a1a1a" stroke="#1a1a1a" stroke-width="0.12" transform="rotate(-90 515.10 178.80)">log10(p(k))</text>
<line x1="552.50" y1="302.00" x2="552.50" y2="307.30" stroke="#1a1a1a" stroke-width="0.9"/>
<text x="552.30" y="316.50" font-size="8.6" text-anchor="middle" dominant-baseline="central" fill="#1a1a1a" stroke="#1a1a1a" stroke-width="0.12">0.2</text>
<line x1="575.50" y1="302.00" x2="575.50" y2="307.30" stroke="#1a1a1a" stroke-width="0.9"/>
<text x="575.70" y="316.50" font-size="8.6" text-anchor="middle" dominant-baseline="central" fill="#1a1a1a" stroke="#1a1a1a" stroke-width="0.12">0.4</text>
<line x1="599.50" y1="302.00" x2="599.50" y2="307.30" stroke="#1a1a1a" stroke-width="0.9"/>
<text x="599.10" y="316.50" font-size="8.6" text-anchor="middle" dominant-baseline="central" fill="#1a1a1a" stroke="#1a1a1a" stroke-width="0.12">0.6</text>
<line x1="622.50" y1="302.00" x2="622.50" y2="307.30" stroke="#1a1a1a" stroke-width="0.9"/>
<text x="622.50" y="316.50" font-size="8.6" text-anchor="middle" dominant-baseline="central" fill="#1a1a1a" stroke="#1a1a1a" stroke-width="0.12">0.8</text>
<line x1="645.50" y1="302.00" x2="645.50" y2="307.30" stroke="#1a1a1a" stroke-width="0.9"/>
<text x="645.90" y="316.50" font-size="8.6" text-anchor="middle" dominant-baseline="central" fill="#1a1a1a" stroke="#1a1a1a" stroke-width="0.12">1.0</text>
<text x="601.40" y="329.60" font-size="8.5" text-anchor="middle" dominant-baseline="central" fill="#1a1a1a" stroke="#1a1a1a" stroke-width="0.12">log10(k)</text>
<circle cx="551.60" cy="67.20" r="2.05" fill="none" stroke="#1a1a1a" stroke-width="0.9"/>
<circle cx="576.60" cy="99.90" r="2.05" fill="none" stroke="#1a1a1a" stroke-width="0.9"/>
<circle cx="594.40" cy="123.80" r="2.05" fill="none" stroke="#1a1a1a" stroke-width="0.9"/>
<circle cx="607.40" cy="158.00" r="2.05" fill="none" stroke="#1a1a1a" stroke-width="0.9"/>
<circle cx="617.10" cy="177.60" r="2.05" fill="none" stroke="#1a1a1a" stroke-width="0.9"/>
<circle cx="625.00" cy="193.60" r="2.05" fill="none" stroke="#1a1a1a" stroke-width="0.9"/>
<circle cx="632.50" cy="228.30" r="2.05" fill="none" stroke="#1a1a1a" stroke-width="0.9"/>
<circle cx="638.30" cy="263.70" r="2.05" fill="none" stroke="#1a1a1a" stroke-width="0.9"/>
<circle cx="644.00" cy="271.20" r="2.05" fill="none" stroke="#1a1a1a" stroke-width="0.9"/>
<circle cx="650.30" cy="292.60" r="2.05" fill="none" stroke="#1a1a1a" stroke-width="0.9"/>
<line x1="558.50" y1="59.00" x2="649.60" y2="274.30" stroke="#1a1a1a" stroke-width="0.9"/>
<text x="219.80" y="349.10" font-size="8.5" text-anchor="middle" dominant-baseline="central" fill="#1a1a1a" stroke="#1a1a1a" stroke-width="0.12">Scale independence</text>
<rect x="94.50" y="358.50" width="244.00" height="236.00" fill="none" stroke="#1a1a1a" stroke-width="0.9"/>
<line x1="86.60" y1="558.50" x2="94.50" y2="558.50" stroke="#1a1a1a" stroke-width="0.9"/>
<text x="74.70" y="560.80" font-size="8.6" text-anchor="middle" dominant-baseline="central" fill="#1a1a1a" stroke="#1a1a1a" stroke-width="0.12" transform="rotate(-90 74.70 560.80)">0.2</text>
<line x1="86.60" y1="509.50" x2="94.50" y2="509.50" stroke="#1a1a1a" stroke-width="0.9"/>
<text x="74.70" y="512.10" font-size="8.6" text-anchor="middle" dominant-baseline="central" fill="#1a1a1a" stroke="#1a1a1a" stroke-width="0.12" transform="rotate(-90 74.70 512.10)">0.4</text>
<line x1="86.60" y1="460.50" x2="94.50" y2="460.50" stroke="#1a1a1a" stroke-width="0.9"/>
<text x="74.70" y="463.10" font-size="8.6" text-anchor="middle" dominant-baseline="central" fill="#1a1a1a" stroke="#1a1a1a" stroke-width="0.12" transform="rotate(-90 74.70 463.10)">0.6</text>
<line x1="86.60" y1="411.50" x2="94.50" y2="411.50" stroke="#1a1a1a" stroke-width="0.9"/>
<text x="74.70" y="414.40" font-size="8.6" text-anchor="middle" dominant-baseline="central" fill="#1a1a1a" stroke="#1a1a1a" stroke-width="0.12" transform="rotate(-90 74.70 414.40)">0.8</text>
<line x1="86.60" y1="363.50" x2="94.50" y2="363.50" stroke="#1a1a1a" stroke-width="0.9"/>
<text x="74.70" y="365.60" font-size="8.6" text-anchor="middle" dominant-baseline="central" fill="#1a1a1a" stroke="#1a1a1a" stroke-width="0.12" transform="rotate(-90 74.70 365.60)">1.0</text>
<line x1="151.50" y1="594.40" x2="151.50" y2="602.00" stroke="#1a1a1a" stroke-width="0.9"/>
<text x="150.20" y="610.20" font-size="8.6" text-anchor="middle" dominant-baseline="central" fill="#1a1a1a" stroke="#1a1a1a" stroke-width="0.12">5</text>
<line x1="210.50" y1="594.40" x2="210.50" y2="602.00" stroke="#1a1a1a" stroke-width="0.9"/>
<text x="208.60" y="610.20" font-size="8.6" text-anchor="middle" dominant-baseline="central" fill="#1a1a1a" stroke="#1a1a1a" stroke-width="0.12">10</text>
<line x1="269.50" y1="594.40" x2="269.50" y2="602.00" stroke="#1a1a1a" stroke-width="0.9"/>
<text x="267.90" y="610.20" font-size="8.6" text-anchor="middle" dominant-baseline="central" fill="#1a1a1a" stroke="#1a1a1a" stroke-width="0.12">15</text>
<line x1="329.50" y1="594.40" x2="329.50" y2="602.00" stroke="#1a1a1a" stroke-width="0.9"/>
<text x="326.90" y="610.20" font-size="8.6" text-anchor="middle" dominant-baseline="central" fill="#1a1a1a" stroke="#1a1a1a" stroke-width="0.12">20</text>
<text x="196.90" y="627.10" font-size="8.5" text-anchor="middle" dominant-baseline="central" fill="#1a1a1a" stroke="#1a1a1a" stroke-width="0.12">Soft Threshold (power)</text>
<text x="40.30" y="482.60" font-size="8.5" text-anchor="middle" dominant-baseline="central" fill="#1a1a1a" stroke="#1a1a1a" stroke-width="0.12" transform="rotate(-90 40.30 482.60)">Scale Free Topology Model</text>
<text x="50.60" y="489.00" font-size="8.5" text-anchor="middle" dominant-baseline="central" fill="#1a1a1a" stroke="#1a1a1a" stroke-width="0.12" transform="rotate(-90 50.60 489.00)">Fit,signed R^2</text>
<line x1="94.50" y1="387.50" x2="338.70" y2="387.50" stroke="#e5352b" stroke-width="0.9"/>
<text x="102.90" y="586.70" font-size="8.5" text-anchor="middle" dominant-baseline="central" fill="#e5352b" stroke="#e5352b" stroke-width="0.12">1</text>
<text x="114.60" y="510.00" font-size="8.5" text-anchor="middle" dominant-baseline="central" fill="#e5352b" stroke="#e5352b" stroke-width="0.12">2</text>
<text x="126.60" y="456.50" font-size="8.5" text-anchor="middle" dominant-baseline="central" fill="#e5352b" stroke="#e5352b" stroke-width="0.12">3</text>
<text x="138.30" y="427.90" font-size="8.5" text-anchor="middle" dominant-baseline="central" fill="#e5352b" stroke="#e5352b" stroke-width="0.12">4</text>
<text x="150.10" y="415.60" font-size="8.5" text-anchor="middle" dominant-baseline="central" fill="#e5352b" stroke="#e5352b" stroke-width="0.12">5</text>
<text x="161.80" y="405.00" font-size="8.5" text-anchor="middle" dominant-baseline="central" fill="#e5352b" stroke="#e5352b" stroke-width="0.12">6</text>
<text x="173.80" y="392.50" font-size="8.5" text-anchor="middle" dominant-baseline="central" fill="#e5352b" stroke="#e5352b" stroke-width="0.12">7</text>
<text x="185.70" y="381.50" font-size="8.5" text-anchor="middle" dominant-baseline="central" fill="#e5352b" stroke="#e5352b" stroke-width="0.12">8</text>
<text x="198.00" y="378.80" font-size="8.5" text-anchor="middle" dominant-baseline="central" fill="#e5352b" stroke="#e5352b" stroke-width="0.12">9</text>
<text x="209.10" y="374.50" font-size="8.5" text-anchor="middle" dominant-baseline="central" fill="#e5352b" stroke="#e5352b" stroke-width="0.12">10</text>
<text x="232.80" y="371.10" font-size="8.5" text-anchor="middle" dominant-baseline="central" fill="#e5352b" stroke="#e5352b" stroke-width="0.12">12</text>
<text x="256.50" y="545.00" font-size="8.5" text-anchor="middle" dominant-baseline="central" fill="#e5352b" stroke="#e5352b" stroke-width="0.12">14</text>
<text x="280.40" y="378.10" font-size="8.5" text-anchor="middle" dominant-baseline="central" fill="#e5352b" stroke="#e5352b" stroke-width="0.12">16</text>
<text x="304.10" y="371.10" font-size="8.5" text-anchor="middle" dominant-baseline="central" fill="#e5352b" stroke="#e5352b" stroke-width="0.12">18</text>
<text x="327.60" y="368.20" font-size="8.5" text-anchor="middle" dominant-baseline="central" fill="#e5352b" stroke="#e5352b" stroke-width="0.12">20</text>
<text x="520.70" y="349.30" font-size="8.5" text-anchor="middle" dominant-baseline="central" fill="#1a1a1a" stroke="#1a1a1a" stroke-width="0.12">Mean connectivity</text>
<rect x="425.50" y="358.50" width="244.00" height="236.00" fill="none" stroke="#1a1a1a" stroke-width="0.9"/>
<line x1="418.20" y1="585.50" x2="425.40" y2="585.50" stroke="#1a1a1a" stroke-width="0.9"/>
<text x="404.60" y="586.70" font-size="8.6" text-anchor="middle" dominant-baseline="central" fill="#1a1a1a" stroke="#1a1a1a" stroke-width="0.12" transform="rotate(-90 404.60 586.70)">0</text>
<line x1="418.20" y1="542.50" x2="425.40" y2="542.50" stroke="#1a1a1a" stroke-width="0.9"/>
<text x="404.60" y="544.87" font-size="8.6" text-anchor="middle" dominant-baseline="central" fill="#1a1a1a" stroke="#1a1a1a" stroke-width="0.12" transform="rotate(-90 404.60 544.87)">50</text>
<line x1="418.20" y1="499.50" x2="425.40" y2="499.50" stroke="#1a1a1a" stroke-width="0.9"/>
<text x="404.60" y="502.74" font-size="8.6" text-anchor="middle" dominant-baseline="central" fill="#1a1a1a" stroke="#1a1a1a" stroke-width="0.12" transform="rotate(-90 404.60 502.74)">100</text>
<line x1="418.20" y1="456.50" x2="425.40" y2="456.50" stroke="#1a1a1a" stroke-width="0.9"/>
<text x="404.60" y="459.91" font-size="8.6" text-anchor="middle" dominant-baseline="central" fill="#1a1a1a" stroke="#1a1a1a" stroke-width="0.12" transform="rotate(-90 404.60 459.91)">150</text>
<line x1="418.20" y1="413.50" x2="425.40" y2="413.50" stroke="#1a1a1a" stroke-width="0.9"/>
<text x="404.60" y="416.78" font-size="8.6" text-anchor="middle" dominant-baseline="central" fill="#1a1a1a" stroke="#1a1a1a" stroke-width="0.12" transform="rotate(-90 404.60 416.78)">200</text>
<line x1="418.20" y1="370.50" x2="425.40" y2="370.50" stroke="#1a1a1a" stroke-width="0.9"/>
<text x="404.60" y="373.55" font-size="8.6" text-anchor="middle" dominant-baseline="central" fill="#1a1a1a" stroke="#1a1a1a" stroke-width="0.12" transform="rotate(-90 404.60 373.55)">250</text>
<line x1="481.50" y1="594.40" x2="481.50" y2="602.00" stroke="#1a1a1a" stroke-width="0.9"/>
<text x="480.80" y="610.00" font-size="8.6" text-anchor="middle" dominant-baseline="central" fill="#1a1a1a" stroke="#1a1a1a" stroke-width="0.12">5</text>
<line x1="541.50" y1="594.40" x2="541.50" y2="602.00" stroke="#1a1a1a" stroke-width="0.9"/>
<text x="539.50" y="610.00" font-size="8.6" text-anchor="middle" dominant-baseline="central" fill="#1a1a1a" stroke="#1a1a1a" stroke-width="0.12">10</text>
<line x1="600.50" y1="594.40" x2="600.50" y2="602.00" stroke="#1a1a1a" stroke-width="0.9"/>
<text x="598.80" y="610.00" font-size="8.6" text-anchor="middle" dominant-baseline="central" fill="#1a1a1a" stroke="#1a1a1a" stroke-width="0.12">15</text>
<line x1="660.50" y1="594.40" x2="660.50" y2="602.00" stroke="#1a1a1a" stroke-width="0.9"/>
<text x="657.70" y="610.00" font-size="8.6" text-anchor="middle" dominant-baseline="central" fill="#1a1a1a" stroke="#1a1a1a" stroke-width="0.12">20</text>
<text x="528.60" y="628.40" font-size="8.5" text-anchor="middle" dominant-baseline="central" fill="#1a1a1a" stroke="#1a1a1a" stroke-width="0.12">Soft Threshold (power)</text>
<text x="385.80" y="475.00" font-size="8.5" text-anchor="middle" dominant-baseline="central" fill="#1a1a1a" stroke="#1a1a1a" stroke-width="0.12" transform="rotate(-90 385.80 475.00)">Mean Connectivity</text>
<text x="434.00" y="368.50" font-size="8.5" text-anchor="middle" dominant-baseline="central" fill="#e5352b" stroke="#e5352b" stroke-width="0.12">1</text>
<text x="445.30" y="522.40" font-size="8.5" text-anchor="middle" dominant-baseline="central" fill="#e5352b" stroke="#e5352b" stroke-width="0.12">2</text>
<text x="457.40" y="562.90" font-size="8.5" text-anchor="middle" dominant-baseline="central" fill="#e5352b" stroke="#e5352b" stroke-width="0.12">3</text>
<text x="469.20" y="576.90" font-size="8.5" text-anchor="middle" dominant-baseline="central" fill="#e5352b" stroke="#e5352b" stroke-width="0.12">4</text>
<text x="481.00" y="582.00" font-size="8.5" text-anchor="middle" dominant-baseline="central" fill="#e5352b" stroke="#e5352b" stroke-width="0.12">5</text>
<text x="493.00" y="584.60" font-size="8.5" text-anchor="middle" dominant-baseline="central" fill="#e5352b" stroke="#e5352b" stroke-width="0.12">6</text>
<text x="504.90" y="585.70" font-size="8.5" text-anchor="middle" dominant-baseline="central" fill="#e5352b" stroke="#e5352b" stroke-width="0.12">7</text>
<text x="516.70" y="586.10" font-size="8.5" text-anchor="middle" dominant-baseline="central" fill="#e5352b" stroke="#e5352b" stroke-width="0.12">8</text>
<text x="528.70" y="586.30" font-size="8.5" text-anchor="middle" dominant-baseline="central" fill="#e5352b" stroke="#e5352b" stroke-width="0.12">9</text>
<text x="540.10" y="586.60" font-size="8.5" text-anchor="middle" dominant-baseline="central" fill="#e5352b" stroke="#e5352b" stroke-width="0.12">10</text>
<text x="563.50" y="587.00" font-size="8.5" text-anchor="middle" dominant-baseline="central" fill="#e5352b" stroke="#e5352b" stroke-width="0.12">12</text>
<text x="587.10" y="587.00" font-size="8.5" text-anchor="middle" dominant-baseline="central" fill="#e5352b" stroke="#e5352b" stroke-width="0.12">14</text>
<text x="611.20" y="587.00" font-size="8.5" text-anchor="middle" dominant-baseline="central" fill="#e5352b" stroke="#e5352b" stroke-width="0.12">16</text>
<text x="635.00" y="587.00" font-size="8.5" text-anchor="middle" dominant-baseline="central" fill="#e5352b" stroke="#e5352b" stroke-width="0.12">18</text>
<text x="658.30" y="587.00" font-size="8.5" text-anchor="middle" dominant-baseline="central" fill="#e5352b" stroke="#e5352b" stroke-width="0.12">20</text>
<text x="195.30" y="666.60" font-size="8.5" text-anchor="middle" dominant-baseline="central" fill="#1a1a1a" stroke="#1a1a1a" stroke-width="0.12">Module−trait relationships</text>
<rect x="76.40" y="684.60" width="13.40" height="57.80" fill="#1e4b9e"/>
<text x="71.50" y="713.50" font-size="8.6" text-anchor="end" dominant-baseline="central" fill="#1a1a1a" stroke="#1a1a1a" stroke-width="0.12">MEblue</text>
<rect x="91.40" y="684.60" width="14.40" height="58.10" fill="rgb(254,251,251)"/>
<rect x="105.50" y="684.60" width="15.10" height="58.10" fill="rgb(226,128,132)"/>
<rect x="120.30" y="684.60" width="14.90" height="58.10" fill="rgb(206,226,193)"/>
<rect x="134.90" y="684.60" width="14.50" height="58.10" fill="rgb(188,215,172)"/>
<rect x="149.10" y="684.60" width="15.10" height="58.10" fill="rgb(255,255,255)"/>
<rect x="163.90" y="684.60" width="14.60" height="58.10" fill="rgb(224,116,121)"/>
<rect x="178.20" y="684.60" width="14.90" height="58.10" fill="rgb(232,160,164)"/>
<rect x="192.80" y="684.60" width="15.50" height="58.10" fill="rgb(243,201,203)"/>
<rect x="208.00" y="684.60" width="14.70" height="58.10" fill="rgb(217,232,208)"/>
<rect x="222.40" y="684.60" width="14.90" height="58.10" fill="rgb(249,225,226)"/>
<rect x="237.00" y="684.60" width="14.90" height="58.10" fill="rgb(224,116,121)"/>
<rect x="251.60" y="684.60" width="14.70" height="58.10" fill="rgb(255,255,255)"/>
<rect x="266.00" y="684.60" width="15.00" height="58.10" fill="rgb(176,209,155)"/>
<rect x="280.70" y="684.60" width="15.10" height="58.10" fill="rgb(176,209,155)"/>
<rect x="295.50" y="684.60" width="14.90" height="58.10" fill="rgb(254,251,251)"/>
<rect x="310.10" y="684.60" width="14.50" height="58.10" fill="rgb(243,201,203)"/>
<rect x="76.40" y="742.40" width="13.40" height="57.60" fill="#a32220"/>
<text x="71.50" y="771.20" font-size="8.6" text-anchor="end" dominant-baseline="central" fill="#1a1a1a" stroke="#1a1a1a" stroke-width="0.12">MEbrown</text>
<rect x="91.40" y="742.40" width="14.40" height="57.90" fill="rgb(243,201,203)"/>
<rect x="105.50" y="742.40" width="15.10" height="57.90" fill="rgb(255,255,255)"/>
<rect x="120.30" y="742.40" width="14.90" height="57.90" fill="rgb(255,255,255)"/>
<rect x="134.90" y="742.40" width="14.50" height="57.90" fill="rgb(255,255,255)"/>
<rect x="149.10" y="742.40" width="15.10" height="57.90" fill="rgb(240,190,192)"/>
<rect x="163.90" y="742.40" width="14.60" height="57.90" fill="rgb(255,255,255)"/>
<rect x="178.20" y="742.40" width="14.90" height="57.90" fill="rgb(255,255,255)"/>
<rect x="192.80" y="742.40" width="15.50" height="57.90" fill="rgb(226,128,132)"/>
<rect x="208.00" y="742.40" width="14.70" height="57.90" fill="rgb(197,221,183)"/>
<rect x="222.40" y="742.40" width="14.90" height="57.90" fill="rgb(251,238,238)"/>
<rect x="237.00" y="742.40" width="14.90" height="57.90" fill="rgb(254,251,251)"/>
<rect x="251.60" y="742.40" width="14.70" height="57.90" fill="rgb(249,225,226)"/>
<rect x="266.00" y="742.40" width="15.00" height="57.90" fill="rgb(249,225,226)"/>
<rect x="280.70" y="742.40" width="15.10" height="57.90" fill="rgb(243,201,203)"/>
<rect x="295.50" y="742.40" width="14.90" height="57.90" fill="rgb(197,221,183)"/>
<rect x="310.10" y="742.40" width="14.50" height="57.90" fill="rgb(255,255,255)"/>
<rect x="76.40" y="800.00" width="13.40" height="56.90" fill="#4aaba7"/>
<text x="71.50" y="828.45" font-size="8.6" text-anchor="end" dominant-baseline="central" fill="#1a1a1a" stroke="#1a1a1a" stroke-width="0.12">MEturquoise</text>
<rect x="91.40" y="800.00" width="14.40" height="57.20" fill="rgb(226,58,63)"/>
<rect x="105.50" y="800.00" width="15.10" height="57.20" fill="rgb(224,106,111)"/>
<rect x="120.30" y="800.00" width="14.90" height="57.20" fill="rgb(197,221,183)"/>
<rect x="134.90" y="800.00" width="14.50" height="57.20" fill="rgb(188,215,172)"/>
<rect x="149.10" y="800.00" width="15.10" height="57.20" fill="rgb(255,255,255)"/>
<rect x="163.90" y="800.00" width="14.60" height="57.20" fill="rgb(246,212,213)"/>
<rect x="178.20" y="800.00" width="14.90" height="57.20" fill="rgb(226,128,132)"/>
<rect x="192.80" y="800.00" width="15.50" height="57.20" fill="rgb(232,160,164)"/>
<rect x="208.00" y="800.00" width="14.70" height="57.20" fill="rgb(255,255,255)"/>
<rect x="222.40" y="800.00" width="14.90" height="57.20" fill="rgb(255,255,255)"/>
<rect x="237.00" y="800.00" width="14.90" height="57.20" fill="rgb(224,106,111)"/>
<rect x="251.60" y="800.00" width="14.70" height="57.20" fill="rgb(240,190,192)"/>
<rect x="266.00" y="800.00" width="15.00" height="57.20" fill="rgb(182,212,164)"/>
<rect x="280.70" y="800.00" width="15.10" height="57.20" fill="rgb(176,209,155)"/>
<rect x="295.50" y="800.00" width="14.90" height="57.20" fill="rgb(254,251,251)"/>
<rect x="310.10" y="800.00" width="14.50" height="57.20" fill="rgb(224,116,121)"/>
<rect x="76.40" y="856.90" width="13.40" height="56.90" fill="#bebebe"/>
<text x="71.50" y="885.35" font-size="8.6" text-anchor="end" dominant-baseline="central" fill="#1a1a1a" stroke="#1a1a1a" stroke-width="0.12">MEgrey</text>
<rect x="91.40" y="856.90" width="14.40" height="56.90" fill="rgb(254,251,251)"/>
<rect x="105.50" y="856.90" width="15.10" height="56.90" fill="rgb(236,175,178)"/>
<rect x="120.30" y="856.90" width="14.90" height="56.90" fill="rgb(206,226,193)"/>
<rect x="134.90" y="856.90" width="14.50" height="56.90" fill="rgb(236,243,232)"/>
<rect x="149.10" y="856.90" width="15.10" height="56.90" fill="rgb(217,232,208)"/>
<rect x="163.90" y="856.90" width="14.60" height="56.90" fill="rgb(255,255,255)"/>
<rect x="178.20" y="856.90" width="14.90" height="56.90" fill="rgb(240,190,192)"/>
<rect x="192.80" y="856.90" width="15.50" height="56.90" fill="rgb(206,226,193)"/>
<rect x="208.00" y="856.90" width="14.70" height="56.90" fill="rgb(246,212,213)"/>
<rect x="222.40" y="856.90" width="14.90" height="56.90" fill="rgb(188,215,172)"/>
<rect x="237.00" y="856.90" width="14.90" height="56.90" fill="rgb(236,175,178)"/>
<rect x="251.60" y="856.90" width="14.70" height="56.90" fill="rgb(232,160,164)"/>
<rect x="266.00" y="856.90" width="15.00" height="56.90" fill="rgb(206,226,193)"/>
<rect x="280.70" y="856.90" width="15.10" height="56.90" fill="rgb(182,212,164)"/>
<rect x="295.50" y="856.90" width="14.90" height="56.90" fill="rgb(254,251,251)"/>
<rect x="310.10" y="856.90" width="14.50" height="56.90" fill="rgb(255,255,255)"/>
<text x="98.45" y="711.90" font-size="4.7" text-anchor="middle" dominant-baseline="central" fill="#1a1a1a" stroke="#1a1a1a" stroke-width="0.06">0.052</text>
<text x="98.45" y="716.70" font-size="4.7" text-anchor="middle" dominant-baseline="central" fill="#1a1a1a" stroke="#1a1a1a" stroke-width="0.06">(0.8)</text>
<text x="112.90" y="711.90" font-size="4.7" text-anchor="middle" dominant-baseline="central" fill="#1a1a1a" stroke="#1a1a1a" stroke-width="0.06">0.44</text>
<text x="112.90" y="716.70" font-size="4.7" text-anchor="middle" dominant-baseline="central" fill="#1a1a1a" stroke="#1a1a1a" stroke-width="0.06">(0.01)</text>
<text x="127.60" y="711.90" font-size="4.7" text-anchor="middle" dominant-baseline="central" fill="#1a1a1a" stroke="#1a1a1a" stroke-width="0.06">−0.18</text>
<text x="127.60" y="716.70" font-size="4.7" text-anchor="middle" dominant-baseline="central" fill="#1a1a1a" stroke="#1a1a1a" stroke-width="0.06">(0.3)</text>
<text x="142.00" y="711.90" font-size="4.7" text-anchor="middle" dominant-baseline="central" fill="#1a1a1a" stroke="#1a1a1a" stroke-width="0.06">−0.26</text>
<text x="142.00" y="716.70" font-size="4.7" text-anchor="middle" dominant-baseline="central" fill="#1a1a1a" stroke="#1a1a1a" stroke-width="0.06">(0.2)</text>
<text x="156.50" y="711.90" font-size="4.7" text-anchor="middle" dominant-baseline="central" fill="#1a1a1a" stroke="#1a1a1a" stroke-width="0.06">0.0062</text>
<text x="156.50" y="716.70" font-size="4.7" text-anchor="middle" dominant-baseline="central" fill="#1a1a1a" stroke="#1a1a1a" stroke-width="0.06">(1)</text>
<text x="171.05" y="711.90" font-size="4.7" text-anchor="middle" dominant-baseline="central" fill="#1a1a1a" stroke="#1a1a1a" stroke-width="0.06">0.51</text>
<text x="171.05" y="716.70" font-size="4.7" text-anchor="middle" dominant-baseline="central" fill="#1a1a1a" stroke="#1a1a1a" stroke-width="0.06">(0.003)</text>
<text x="185.50" y="711.90" font-size="4.7" text-anchor="middle" dominant-baseline="central" fill="#1a1a1a" stroke="#1a1a1a" stroke-width="0.06">0.34</text>
<text x="185.50" y="716.70" font-size="4.7" text-anchor="middle" dominant-baseline="central" fill="#1a1a1a" stroke="#1a1a1a" stroke-width="0.06">(0.06)</text>
<text x="200.40" y="711.90" font-size="4.7" text-anchor="middle" dominant-baseline="central" fill="#1a1a1a" stroke="#1a1a1a" stroke-width="0.06">0.22</text>
<text x="200.40" y="716.70" font-size="4.7" text-anchor="middle" dominant-baseline="central" fill="#1a1a1a" stroke="#1a1a1a" stroke-width="0.06">(0.2)</text>
<text x="215.20" y="711.90" font-size="4.7" text-anchor="middle" dominant-baseline="central" fill="#1a1a1a" stroke="#1a1a1a" stroke-width="0.06">−0.15</text>
<text x="215.20" y="716.70" font-size="4.7" text-anchor="middle" dominant-baseline="central" fill="#1a1a1a" stroke="#1a1a1a" stroke-width="0.06">(0.4)</text>
<text x="229.70" y="711.90" font-size="4.7" text-anchor="middle" dominant-baseline="central" fill="#1a1a1a" stroke="#1a1a1a" stroke-width="0.06">0.12</text>
<text x="229.70" y="716.70" font-size="4.7" text-anchor="middle" dominant-baseline="central" fill="#1a1a1a" stroke="#1a1a1a" stroke-width="0.06">(0.5)</text>
<text x="244.30" y="711.90" font-size="4.7" text-anchor="middle" dominant-baseline="central" fill="#1a1a1a" stroke="#1a1a1a" stroke-width="0.06">0.48</text>
<text x="244.30" y="716.70" font-size="4.7" text-anchor="middle" dominant-baseline="central" fill="#1a1a1a" stroke="#1a1a1a" stroke-width="0.06">(0.005)</text>
<text x="258.80" y="711.90" font-size="4.7" text-anchor="middle" dominant-baseline="central" fill="#1a1a1a" stroke="#1a1a1a" stroke-width="0.06">−0.0052</text>
<text x="258.80" y="716.70" font-size="4.7" text-anchor="middle" dominant-baseline="central" fill="#1a1a1a" stroke="#1a1a1a" stroke-width="0.06">(1)</text>
<text x="273.35" y="711.90" font-size="4.7" text-anchor="middle" dominant-baseline="central" fill="#1a1a1a" stroke="#1a1a1a" stroke-width="0.06">−0.33</text>
<text x="273.35" y="716.70" font-size="4.7" text-anchor="middle" dominant-baseline="central" fill="#1a1a1a" stroke="#1a1a1a" stroke-width="0.06">(0.06)</text>
<text x="288.10" y="711.90" font-size="4.7" text-anchor="middle" dominant-baseline="central" fill="#1a1a1a" stroke="#1a1a1a" stroke-width="0.06">−0.36</text>
<text x="288.10" y="716.70" font-size="4.7" text-anchor="middle" dominant-baseline="central" fill="#1a1a1a" stroke="#1a1a1a" stroke-width="0.06">(0.04)</text>
<text x="302.80" y="711.90" font-size="4.7" text-anchor="middle" dominant-baseline="central" fill="#1a1a1a" stroke="#1a1a1a" stroke-width="0.06">0.072</text>
<text x="302.80" y="716.70" font-size="4.7" text-anchor="middle" dominant-baseline="central" fill="#1a1a1a" stroke="#1a1a1a" stroke-width="0.06">(0.7)</text>
<text x="317.35" y="711.90" font-size="4.7" text-anchor="middle" dominant-baseline="central" fill="#1a1a1a" stroke="#1a1a1a" stroke-width="0.06">0.2</text>
<text x="317.35" y="716.70" font-size="4.7" text-anchor="middle" dominant-baseline="central" fill="#1a1a1a" stroke="#1a1a1a" stroke-width="0.06">(0.3)</text>
<text x="98.45" y="769.60" font-size="4.7" text-anchor="middle" dominant-baseline="central" fill="#1a1a1a" stroke="#1a1a1a" stroke-width="0.06">0.21</text>
<text x="98.45" y="774.40" font-size="4.7" text-anchor="middle" dominant-baseline="central" fill="#1a1a1a" stroke="#1a1a1a" stroke-width="0.06">(0.2)</text>
<text x="112.90" y="769.60" font-size="4.7" text-anchor="middle" dominant-baseline="central" fill="#1a1a1a" stroke="#1a1a1a" stroke-width="0.06">0.0068</text>
<text x="112.90" y="774.40" font-size="4.7" text-anchor="middle" dominant-baseline="central" fill="#1a1a1a" stroke="#1a1a1a" stroke-width="0.06">(1)</text>
<text x="127.60" y="769.60" font-size="4.7" text-anchor="middle" dominant-baseline="central" fill="#1a1a1a" stroke="#1a1a1a" stroke-width="0.06">0.0087</text>
<text x="127.60" y="774.40" font-size="4.7" text-anchor="middle" dominant-baseline="central" fill="#1a1a1a" stroke="#1a1a1a" stroke-width="0.06">(1)</text>
<text x="142.00" y="769.60" font-size="4.7" text-anchor="middle" dominant-baseline="central" fill="#1a1a1a" stroke="#1a1a1a" stroke-width="0.06">−0.014</text>
<text x="142.00" y="774.40" font-size="4.7" text-anchor="middle" dominant-baseline="central" fill="#1a1a1a" stroke="#1a1a1a" stroke-width="0.06">(0.9)</text>
<text x="156.50" y="769.60" font-size="4.7" text-anchor="middle" dominant-baseline="central" fill="#1a1a1a" stroke="#1a1a1a" stroke-width="0.06">0.24</text>
<text x="156.50" y="774.40" font-size="4.7" text-anchor="middle" dominant-baseline="central" fill="#1a1a1a" stroke="#1a1a1a" stroke-width="0.06">(0.2)</text>
<text x="171.05" y="769.60" font-size="4.7" text-anchor="middle" dominant-baseline="central" fill="#1a1a1a" stroke="#1a1a1a" stroke-width="0.06">−0.05</text>
<text x="171.05" y="774.40" font-size="4.7" text-anchor="middle" dominant-baseline="central" fill="#1a1a1a" stroke="#1a1a1a" stroke-width="0.06">(0.8)</text>
<text x="185.50" y="769.60" font-size="4.7" text-anchor="middle" dominant-baseline="central" fill="#1a1a1a" stroke="#1a1a1a" stroke-width="0.06">−0.033</text>
<text x="185.50" y="774.40" font-size="4.7" text-anchor="middle" dominant-baseline="central" fill="#1a1a1a" stroke="#1a1a1a" stroke-width="0.06">(0.9)</text>
<text x="200.40" y="769.60" font-size="4.7" text-anchor="middle" dominant-baseline="central" fill="#1a1a1a" stroke="#1a1a1a" stroke-width="0.06">0.45</text>
<text x="200.40" y="774.40" font-size="4.7" text-anchor="middle" dominant-baseline="central" fill="#1a1a1a" stroke="#1a1a1a" stroke-width="0.06">(0.009)</text>
<text x="215.20" y="769.60" font-size="4.7" text-anchor="middle" dominant-baseline="central" fill="#1a1a1a" stroke="#1a1a1a" stroke-width="0.06">−0.24</text>
<text x="215.20" y="774.40" font-size="4.7" text-anchor="middle" dominant-baseline="central" fill="#1a1a1a" stroke="#1a1a1a" stroke-width="0.06">(0.2)</text>
<text x="229.70" y="769.60" font-size="4.7" text-anchor="middle" dominant-baseline="central" fill="#1a1a1a" stroke="#1a1a1a" stroke-width="0.06">0.086</text>
<text x="229.70" y="774.40" font-size="4.7" text-anchor="middle" dominant-baseline="central" fill="#1a1a1a" stroke="#1a1a1a" stroke-width="0.06">(0.6)</text>
<text x="244.30" y="769.60" font-size="4.7" text-anchor="middle" dominant-baseline="central" fill="#1a1a1a" stroke="#1a1a1a" stroke-width="0.06">0.04</text>
<text x="244.30" y="774.40" font-size="4.7" text-anchor="middle" dominant-baseline="central" fill="#1a1a1a" stroke="#1a1a1a" stroke-width="0.06">(0.8)</text>
<text x="258.80" y="769.60" font-size="4.7" text-anchor="middle" dominant-baseline="central" fill="#1a1a1a" stroke="#1a1a1a" stroke-width="0.06">0.16</text>
<text x="258.80" y="774.40" font-size="4.7" text-anchor="middle" dominant-baseline="central" fill="#1a1a1a" stroke="#1a1a1a" stroke-width="0.06">(0.4)</text>
<text x="273.35" y="769.60" font-size="4.7" text-anchor="middle" dominant-baseline="central" fill="#1a1a1a" stroke="#1a1a1a" stroke-width="0.06">0.12</text>
<text x="273.35" y="774.40" font-size="4.7" text-anchor="middle" dominant-baseline="central" fill="#1a1a1a" stroke="#1a1a1a" stroke-width="0.06">(0.5)</text>
<text x="288.10" y="769.60" font-size="4.7" text-anchor="middle" dominant-baseline="central" fill="#1a1a1a" stroke="#1a1a1a" stroke-width="0.06">0.21</text>
<text x="288.10" y="774.40" font-size="4.7" text-anchor="middle" dominant-baseline="central" fill="#1a1a1a" stroke="#1a1a1a" stroke-width="0.06">(0.3)</text>
<text x="302.80" y="769.60" font-size="4.7" text-anchor="middle" dominant-baseline="central" fill="#1a1a1a" stroke="#1a1a1a" stroke-width="0.06">−0.22</text>
<text x="302.80" y="774.40" font-size="4.7" text-anchor="middle" dominant-baseline="central" fill="#1a1a1a" stroke="#1a1a1a" stroke-width="0.06">(0.2)</text>
<text x="317.35" y="769.60" font-size="4.7" text-anchor="middle" dominant-baseline="central" fill="#1a1a1a" stroke="#1a1a1a" stroke-width="0.06">0.038</text>
<text x="317.35" y="774.40" font-size="4.7" text-anchor="middle" dominant-baseline="central" fill="#1a1a1a" stroke="#1a1a1a" stroke-width="0.06">(0.8)</text>
<text x="98.45" y="826.85" font-size="4.7" text-anchor="middle" dominant-baseline="central" fill="#1a1a1a" stroke="#1a1a1a" stroke-width="0.06">0.75</text>
<text x="98.45" y="831.65" font-size="4.7" text-anchor="middle" dominant-baseline="central" fill="#1a1a1a" stroke="#1a1a1a" stroke-width="0.06">(7e−07)</text>
<text x="112.90" y="826.85" font-size="4.7" text-anchor="middle" dominant-baseline="central" fill="#1a1a1a" stroke="#1a1a1a" stroke-width="0.06">0.53</text>
<text x="112.90" y="831.65" font-size="4.7" text-anchor="middle" dominant-baseline="central" fill="#1a1a1a" stroke="#1a1a1a" stroke-width="0.06">(0.002)</text>
<text x="127.60" y="826.85" font-size="4.7" text-anchor="middle" dominant-baseline="central" fill="#1a1a1a" stroke="#1a1a1a" stroke-width="0.06">−0.24</text>
<text x="127.60" y="831.65" font-size="4.7" text-anchor="middle" dominant-baseline="central" fill="#1a1a1a" stroke="#1a1a1a" stroke-width="0.06">(0.2)</text>
<text x="142.00" y="826.85" font-size="4.7" text-anchor="middle" dominant-baseline="central" fill="#1a1a1a" stroke="#1a1a1a" stroke-width="0.06">−0.28</text>
<text x="142.00" y="831.65" font-size="4.7" text-anchor="middle" dominant-baseline="central" fill="#1a1a1a" stroke="#1a1a1a" stroke-width="0.06">(0.1)</text>
<text x="156.50" y="826.85" font-size="4.7" text-anchor="middle" dominant-baseline="central" fill="#1a1a1a" stroke="#1a1a1a" stroke-width="0.06">−0.042</text>
<text x="156.50" y="831.65" font-size="4.7" text-anchor="middle" dominant-baseline="central" fill="#1a1a1a" stroke="#1a1a1a" stroke-width="0.06">(0.8)</text>
<text x="171.05" y="826.85" font-size="4.7" text-anchor="middle" dominant-baseline="central" fill="#1a1a1a" stroke="#1a1a1a" stroke-width="0.06">0.19</text>
<text x="171.05" y="831.65" font-size="4.7" text-anchor="middle" dominant-baseline="central" fill="#1a1a1a" stroke="#1a1a1a" stroke-width="0.06">(0.3)</text>
<text x="185.50" y="826.85" font-size="4.7" text-anchor="middle" dominant-baseline="central" fill="#1a1a1a" stroke="#1a1a1a" stroke-width="0.06">0.46</text>
<text x="185.50" y="831.65" font-size="4.7" text-anchor="middle" dominant-baseline="central" fill="#1a1a1a" stroke="#1a1a1a" stroke-width="0.06">(0.008)</text>
<text x="200.40" y="826.85" font-size="4.7" text-anchor="middle" dominant-baseline="central" fill="#1a1a1a" stroke="#1a1a1a" stroke-width="0.06">0.32</text>
<text x="200.40" y="831.65" font-size="4.7" text-anchor="middle" dominant-baseline="central" fill="#1a1a1a" stroke="#1a1a1a" stroke-width="0.06">(0.07)</text>
<text x="215.20" y="826.85" font-size="4.7" text-anchor="middle" dominant-baseline="central" fill="#1a1a1a" stroke="#1a1a1a" stroke-width="0.06">−0.058</text>
<text x="215.20" y="831.65" font-size="4.7" text-anchor="middle" dominant-baseline="central" fill="#1a1a1a" stroke="#1a1a1a" stroke-width="0.06">(0.8)</text>
<text x="229.70" y="826.85" font-size="4.7" text-anchor="middle" dominant-baseline="central" fill="#1a1a1a" stroke="#1a1a1a" stroke-width="0.06">−0.0058</text>
<text x="229.70" y="831.65" font-size="4.7" text-anchor="middle" dominant-baseline="central" fill="#1a1a1a" stroke="#1a1a1a" stroke-width="0.06">(1)</text>
<text x="244.30" y="826.85" font-size="4.7" text-anchor="middle" dominant-baseline="central" fill="#1a1a1a" stroke="#1a1a1a" stroke-width="0.06">0.52</text>
<text x="244.30" y="831.65" font-size="4.7" text-anchor="middle" dominant-baseline="central" fill="#1a1a1a" stroke="#1a1a1a" stroke-width="0.06">(0.002)</text>
<text x="258.80" y="826.85" font-size="4.7" text-anchor="middle" dominant-baseline="central" fill="#1a1a1a" stroke="#1a1a1a" stroke-width="0.06">0.27</text>
<text x="258.80" y="831.65" font-size="4.7" text-anchor="middle" dominant-baseline="central" fill="#1a1a1a" stroke="#1a1a1a" stroke-width="0.06">(0.1)</text>
<text x="273.35" y="826.85" font-size="4.7" text-anchor="middle" dominant-baseline="central" fill="#1a1a1a" stroke="#1a1a1a" stroke-width="0.06">−0.3</text>
<text x="273.35" y="831.65" font-size="4.7" text-anchor="middle" dominant-baseline="central" fill="#1a1a1a" stroke="#1a1a1a" stroke-width="0.06">(0.1)</text>
<text x="288.10" y="826.85" font-size="4.7" text-anchor="middle" dominant-baseline="central" fill="#1a1a1a" stroke="#1a1a1a" stroke-width="0.06">−0.33</text>
<text x="288.10" y="831.65" font-size="4.7" text-anchor="middle" dominant-baseline="central" fill="#1a1a1a" stroke="#1a1a1a" stroke-width="0.06">(0.07)</text>
<text x="302.80" y="826.85" font-size="4.7" text-anchor="middle" dominant-baseline="central" fill="#1a1a1a" stroke="#1a1a1a" stroke-width="0.06">0.068</text>
<text x="302.80" y="831.65" font-size="4.7" text-anchor="middle" dominant-baseline="central" fill="#1a1a1a" stroke="#1a1a1a" stroke-width="0.06">(0.7)</text>
<text x="317.35" y="826.85" font-size="4.7" text-anchor="middle" dominant-baseline="central" fill="#1a1a1a" stroke="#1a1a1a" stroke-width="0.06">0.51</text>
<text x="317.35" y="831.65" font-size="4.7" text-anchor="middle" dominant-baseline="central" fill="#1a1a1a" stroke="#1a1a1a" stroke-width="0.06">(0.003)</text>
<text x="98.45" y="883.75" font-size="4.7" text-anchor="middle" dominant-baseline="central" fill="#1a1a1a" stroke="#1a1a1a" stroke-width="0.06">0.073</text>
<text x="98.45" y="888.55" font-size="4.7" text-anchor="middle" dominant-baseline="central" fill="#1a1a1a" stroke="#1a1a1a" stroke-width="0.06">(0.7)</text>
<text x="112.90" y="883.75" font-size="4.7" text-anchor="middle" dominant-baseline="central" fill="#1a1a1a" stroke="#1a1a1a" stroke-width="0.06">0.29</text>
<text x="112.90" y="888.55" font-size="4.7" text-anchor="middle" dominant-baseline="central" fill="#1a1a1a" stroke="#1a1a1a" stroke-width="0.06">(0.1)</text>
<text x="127.60" y="883.75" font-size="4.7" text-anchor="middle" dominant-baseline="central" fill="#1a1a1a" stroke="#1a1a1a" stroke-width="0.06">−0.2</text>
<text x="127.60" y="888.55" font-size="4.7" text-anchor="middle" dominant-baseline="central" fill="#1a1a1a" stroke="#1a1a1a" stroke-width="0.06">(0.3)</text>
<text x="142.00" y="883.75" font-size="4.7" text-anchor="middle" dominant-baseline="central" fill="#1a1a1a" stroke="#1a1a1a" stroke-width="0.06">−0.085</text>
<text x="142.00" y="888.55" font-size="4.7" text-anchor="middle" dominant-baseline="central" fill="#1a1a1a" stroke="#1a1a1a" stroke-width="0.06">(0.6)</text>
<text x="156.50" y="883.75" font-size="4.7" text-anchor="middle" dominant-baseline="central" fill="#1a1a1a" stroke="#1a1a1a" stroke-width="0.06">−0.15</text>
<text x="156.50" y="888.55" font-size="4.7" text-anchor="middle" dominant-baseline="central" fill="#1a1a1a" stroke="#1a1a1a" stroke-width="0.06">(0.4)</text>
<text x="171.05" y="883.75" font-size="4.7" text-anchor="middle" dominant-baseline="central" fill="#1a1a1a" stroke="#1a1a1a" stroke-width="0.06">0.014</text>
<text x="171.05" y="888.55" font-size="4.7" text-anchor="middle" dominant-baseline="central" fill="#1a1a1a" stroke="#1a1a1a" stroke-width="0.06">(0.9)</text>
<text x="185.50" y="883.75" font-size="4.7" text-anchor="middle" dominant-baseline="central" fill="#1a1a1a" stroke="#1a1a1a" stroke-width="0.06">0.25</text>
<text x="185.50" y="888.55" font-size="4.7" text-anchor="middle" dominant-baseline="central" fill="#1a1a1a" stroke="#1a1a1a" stroke-width="0.06">(0.2)</text>
<text x="200.40" y="883.75" font-size="4.7" text-anchor="middle" dominant-baseline="central" fill="#1a1a1a" stroke="#1a1a1a" stroke-width="0.06">−0.19</text>
<text x="200.40" y="888.55" font-size="4.7" text-anchor="middle" dominant-baseline="central" fill="#1a1a1a" stroke="#1a1a1a" stroke-width="0.06">(0.3)</text>
<text x="215.20" y="883.75" font-size="4.7" text-anchor="middle" dominant-baseline="central" fill="#1a1a1a" stroke="#1a1a1a" stroke-width="0.06">0.18</text>
<text x="215.20" y="888.55" font-size="4.7" text-anchor="middle" dominant-baseline="central" fill="#1a1a1a" stroke="#1a1a1a" stroke-width="0.06">(0.3)</text>
<text x="229.70" y="883.75" font-size="4.7" text-anchor="middle" dominant-baseline="central" fill="#1a1a1a" stroke="#1a1a1a" stroke-width="0.06">−0.25</text>
<text x="229.70" y="888.55" font-size="4.7" text-anchor="middle" dominant-baseline="central" fill="#1a1a1a" stroke="#1a1a1a" stroke-width="0.06">(0.2)</text>
<text x="244.30" y="883.75" font-size="4.7" text-anchor="middle" dominant-baseline="central" fill="#1a1a1a" stroke="#1a1a1a" stroke-width="0.06">0.3</text>
<text x="244.30" y="888.55" font-size="4.7" text-anchor="middle" dominant-baseline="central" fill="#1a1a1a" stroke="#1a1a1a" stroke-width="0.06">(0.09)</text>
<text x="258.80" y="883.75" font-size="4.7" text-anchor="middle" dominant-baseline="central" fill="#1a1a1a" stroke="#1a1a1a" stroke-width="0.06">0.33</text>
<text x="258.80" y="888.55" font-size="4.7" text-anchor="middle" dominant-baseline="central" fill="#1a1a1a" stroke="#1a1a1a" stroke-width="0.06">(0.07)</text>
<text x="273.35" y="883.75" font-size="4.7" text-anchor="middle" dominant-baseline="central" fill="#1a1a1a" stroke="#1a1a1a" stroke-width="0.06">−0.18</text>
<text x="273.35" y="888.55" font-size="4.7" text-anchor="middle" dominant-baseline="central" fill="#1a1a1a" stroke="#1a1a1a" stroke-width="0.06">(0.3)</text>
<text x="288.10" y="883.75" font-size="4.7" text-anchor="middle" dominant-baseline="central" fill="#1a1a1a" stroke="#1a1a1a" stroke-width="0.06">−0.3</text>
<text x="288.10" y="888.55" font-size="4.7" text-anchor="middle" dominant-baseline="central" fill="#1a1a1a" stroke="#1a1a1a" stroke-width="0.06">(0.1)</text>
<text x="302.80" y="883.75" font-size="4.7" text-anchor="middle" dominant-baseline="central" fill="#1a1a1a" stroke="#1a1a1a" stroke-width="0.06">0.043</text>
<text x="302.80" y="888.55" font-size="4.7" text-anchor="middle" dominant-baseline="central" fill="#1a1a1a" stroke="#1a1a1a" stroke-width="0.06">(0.8)</text>
<text x="317.35" y="883.75" font-size="4.7" text-anchor="middle" dominant-baseline="central" fill="#1a1a1a" stroke="#1a1a1a" stroke-width="0.06">0.029</text>
<text x="317.35" y="888.55" font-size="4.7" text-anchor="middle" dominant-baseline="central" fill="#1a1a1a" stroke="#1a1a1a" stroke-width="0.06">(0.9)</text>
<rect x="91.50" y="684.50" width="233.00" height="229.00" fill="none" stroke="#333" stroke-width="0.9"/>
<defs><linearGradient id="cb" x1="0" y1="0" x2="0" y2="1"><stop offset="0.000" stop-color="rgb(226,20,30)"/><stop offset="0.050" stop-color="rgb(226,35,43)"/><stop offset="0.100" stop-color="rgb(226,50,56)"/><stop offset="0.150" stop-color="rgb(226,70,75)"/><stop offset="0.200" stop-color="rgb(225,93,98)"/><stop offset="0.250" stop-color="rgb(224,116,121)"/><stop offset="0.300" stop-color="rgb(229,143,147)"/><stop offset="0.350" stop-color="rgb(235,172,175)"/><stop offset="0.400" stop-color="rgb(244,203,205)"/><stop offset="0.450" stop-color="rgb(250,233,233)"/><stop offset="0.500" stop-color="rgb(255,255,255)"/><stop offset="0.550" stop-color="rgb(228,239,222)"/><stop offset="0.600" stop-color="rgb(199,222,185)"/><stop offset="0.650" stop-color="rgb(181,211,162)"/><stop offset="0.700" stop-color="rgb(166,204,142)"/><stop offset="0.750" stop-color="rgb(152,196,122)"/><stop offset="0.800" stop-color="rgb(142,192,109)"/><stop offset="0.850" stop-color="rgb(131,187,96)"/><stop offset="0.900" stop-color="rgb(121,183,84)"/><stop offset="0.950" stop-color="rgb(110,178,71)"/><stop offset="1.000" stop-color="rgb(100,174,58)"/></linearGradient></defs>
<rect x="329.30" y="698.50" width="5.80" height="202.00" fill="url(#cb)" stroke="#222" stroke-width="0.9"/>
<line x1="335.10" y1="698.50" x2="338.80" y2="698.50" stroke="#222" stroke-width="0.9"/>
<text x="340.30" y="698.50" font-size="7.2" text-anchor="start" dominant-baseline="central" fill="#1a1a1a" stroke="#1a1a1a" stroke-width="0.12">1</text>
<line x1="335.10" y1="749.50" x2="338.80" y2="749.50" stroke="#222" stroke-width="0.9"/>
<text x="340.30" y="749.00" font-size="7.2" text-anchor="start" dominant-baseline="central" fill="#1a1a1a" stroke="#1a1a1a" stroke-width="0.12">0.5</text>
<line x1="335.10" y1="799.50" x2="338.80" y2="799.50" stroke="#222" stroke-width="0.9"/>
<text x="340.30" y="799.50" font-size="7.2" text-anchor="start" dominant-baseline="central" fill="#1a1a1a" stroke="#1a1a1a" stroke-width="0.12">0</text>
<line x1="335.10" y1="850.50" x2="338.80" y2="850.50" stroke="#222" stroke-width="0.9"/>
<text x="340.30" y="850.00" font-size="7.2" text-anchor="start" dominant-baseline="central" fill="#1a1a1a" stroke="#1a1a1a" stroke-width="0.12">−0.5</text>
<line x1="335.10" y1="900.50" x2="338.80" y2="900.50" stroke="#222" stroke-width="0.9"/>
<text x="340.30" y="900.50" font-size="7.2" text-anchor="start" dominant-baseline="central" fill="#1a1a1a" stroke="#1a1a1a" stroke-width="0.12">−1</text>
<text x="98.65" y="917.20" font-size="8.5" text-anchor="end" dominant-baseline="central" fill="#1a1a1a" stroke="#1a1a1a" stroke-width="0.12" transform="rotate(-45 98.65 917.20)">Neutrophil</text>
<text x="113.10" y="917.20" font-size="8.5" text-anchor="end" dominant-baseline="central" fill="#1a1a1a" stroke="#1a1a1a" stroke-width="0.12" transform="rotate(-45 113.10 917.20)">Severe asthma</text>
<text x="127.80" y="917.20" font-size="8.5" text-anchor="end" dominant-baseline="central" fill="#1a1a1a" stroke="#1a1a1a" stroke-width="0.12" transform="rotate(-45 127.80 917.20)">Moderate asthma</text>
<text x="142.20" y="917.20" font-size="8.5" text-anchor="end" dominant-baseline="central" fill="#1a1a1a" stroke="#1a1a1a" stroke-width="0.12" transform="rotate(-45 142.20 917.20)">Mild asthma</text>
<text x="156.70" y="917.20" font-size="8.5" text-anchor="end" dominant-baseline="central" fill="#1a1a1a" stroke="#1a1a1a" stroke-width="0.12" transform="rotate(-45 156.70 917.20)">Sex</text>
<text x="171.25" y="917.20" font-size="8.5" text-anchor="end" dominant-baseline="central" fill="#1a1a1a" stroke="#1a1a1a" stroke-width="0.12" transform="rotate(-45 171.25 917.20)">Age</text>
<text x="185.70" y="917.20" font-size="8.5" text-anchor="end" dominant-baseline="central" fill="#1a1a1a" stroke="#1a1a1a" stroke-width="0.12" transform="rotate(-45 185.70 917.20)">Smoking</text>
<text x="200.60" y="917.20" font-size="8.5" text-anchor="end" dominant-baseline="central" fill="#1a1a1a" stroke="#1a1a1a" stroke-width="0.12" transform="rotate(-45 200.60 917.20)">Asthma control questionnaire</text>
<text x="215.40" y="917.20" font-size="8.5" text-anchor="end" dominant-baseline="central" fill="#1a1a1a" stroke="#1a1a1a" stroke-width="0.12" transform="rotate(-45 215.40 917.20)">Allergic rhinitis</text>
<text x="229.90" y="917.20" font-size="8.5" text-anchor="end" dominant-baseline="central" fill="#1a1a1a" stroke="#1a1a1a" stroke-width="0.12" transform="rotate(-45 229.90 917.20)">Nasal polyps</text>
<text x="244.50" y="917.20" font-size="8.5" text-anchor="end" dominant-baseline="central" fill="#1a1a1a" stroke="#1a1a1a" stroke-width="0.12" transform="rotate(-45 244.50 917.20)">Inhaled corticosteroid dose</text>
<text x="259.00" y="917.20" font-size="8.5" text-anchor="end" dominant-baseline="central" fill="#1a1a1a" stroke="#1a1a1a" stroke-width="0.12" transform="rotate(-45 259.00 917.20)">Oral corticosteroid dose</text>
<text x="273.55" y="917.20" font-size="8.5" text-anchor="end" dominant-baseline="central" fill="#1a1a1a" stroke="#1a1a1a" stroke-width="0.12" transform="rotate(-45 273.55 917.20)">FEV1</text>
<text x="288.30" y="917.20" font-size="8.5" text-anchor="end" dominant-baseline="central" fill="#1a1a1a" stroke="#1a1a1a" stroke-width="0.12" transform="rotate(-45 288.30 917.20)">FVC</text>
<text x="303.00" y="917.20" font-size="8.5" text-anchor="end" dominant-baseline="central" fill="#1a1a1a" stroke="#1a1a1a" stroke-width="0.12" transform="rotate(-45 303.00 917.20)">Reversibility</text>
<text x="317.55" y="917.20" font-size="8.5" text-anchor="end" dominant-baseline="central" fill="#1a1a1a" stroke="#1a1a1a" stroke-width="0.12" transform="rotate(-45 317.55 917.20)">Gina control</text>
<text x="522.90" y="652.00" font-size="8.5" text-anchor="middle" dominant-baseline="central" fill="#1a1a1a" stroke="#1a1a1a" stroke-width="0.12">Module membership vs. gene</text>
<text x="536.00" y="664.10" font-size="8.5" text-anchor="middle" dominant-baseline="central" fill="#1a1a1a" stroke="#1a1a1a" stroke-width="0.12">significance</text>
<text x="536.70" y="675.50" font-size="8.5" text-anchor="middle" dominant-baseline="central" fill="#1a1a1a" stroke="#1a1a1a" stroke-width="0.12">cor=0.45, p=9.3e−18</text>
<line x1="400.50" y1="684.20" x2="683.50" y2="684.20" stroke="#524e4b" stroke-width="1.7"/>
<line x1="400.50" y1="936.90" x2="683.50" y2="936.90" stroke="#524e4b" stroke-width="1.7"/>
<line x1="400.50" y1="683.40" x2="400.50" y2="937.70" stroke="#1a1a1a" stroke-width="1.1"/>
<line x1="683.50" y1="683.40" x2="683.50" y2="937.70" stroke="#1a1a1a" stroke-width="1.1"/>
<line x1="394.80" y1="927.50" x2="400.80" y2="927.50" stroke="#1a1a1a" stroke-width="0.9"/>
<text x="388.00" y="928.60" font-size="8.6" text-anchor="middle" dominant-baseline="central" fill="#1a1a1a" stroke="#1a1a1a" stroke-width="0.12" transform="rotate(-90 388.00 928.60)">0.0</text>
<line x1="394.80" y1="864.50" x2="400.80" y2="864.50" stroke="#1a1a1a" stroke-width="0.9"/>
<text x="388.00" y="865.84" font-size="8.6" text-anchor="middle" dominant-baseline="central" fill="#1a1a1a" stroke="#1a1a1a" stroke-width="0.12" transform="rotate(-90 388.00 865.84)">0.2</text>
<line x1="394.80" y1="802.50" x2="400.80" y2="802.50" stroke="#1a1a1a" stroke-width="0.9"/>
<text x="388.00" y="803.08" font-size="8.6" text-anchor="middle" dominant-baseline="central" fill="#1a1a1a" stroke="#1a1a1a" stroke-width="0.12" transform="rotate(-90 388.00 803.08)">0.4</text>
<line x1="394.80" y1="739.50" x2="400.80" y2="739.50" stroke="#1a1a1a" stroke-width="0.9"/>
<text x="388.00" y="740.32" font-size="8.6" text-anchor="middle" dominant-baseline="central" fill="#1a1a1a" stroke="#1a1a1a" stroke-width="0.12" transform="rotate(-90 388.00 740.32)">0.6</text>
<line x1="411.50" y1="936.60" x2="411.50" y2="942.00" stroke="#1a1a1a" stroke-width="0.9"/>
<text x="410.60" y="951.90" font-size="8.6" text-anchor="middle" dominant-baseline="central" fill="#1a1a1a" stroke="#1a1a1a" stroke-width="0.12">0.0</text>
<line x1="469.50" y1="936.60" x2="469.50" y2="942.00" stroke="#1a1a1a" stroke-width="0.9"/>
<text x="469.20" y="951.90" font-size="8.6" text-anchor="middle" dominant-baseline="central" fill="#1a1a1a" stroke="#1a1a1a" stroke-width="0.12">0.2</text>
<line x1="528.50" y1="936.60" x2="528.50" y2="942.00" stroke="#1a1a1a" stroke-width="0.9"/>
<text x="527.80" y="951.90" font-size="8.6" text-anchor="middle" dominant-baseline="central" fill="#1a1a1a" stroke="#1a1a1a" stroke-width="0.12">0.4</text>
<line x1="586.50" y1="936.60" x2="586.50" y2="942.00" stroke="#1a1a1a" stroke-width="0.9"/>
<text x="586.40" y="951.90" font-size="8.6" text-anchor="middle" dominant-baseline="central" fill="#1a1a1a" stroke="#1a1a1a" stroke-width="0.12">0.6</text>
<line x1="645.50" y1="936.60" x2="645.50" y2="942.00" stroke="#1a1a1a" stroke-width="0.9"/>
<text x="645.00" y="951.90" font-size="8.6" text-anchor="middle" dominant-baseline="central" fill="#1a1a1a" stroke="#1a1a1a" stroke-width="0.12">0.8</text>
<text x="538.60" y="971.90" font-size="8.5" text-anchor="middle" dominant-baseline="central" fill="#1a1a1a" stroke="#1a1a1a" stroke-width="0.12">Module Membership in turquoise module</text>
<text x="374.80" y="808.00" font-size="9.4" text-anchor="middle" dominant-baseline="central" fill="#1a1a1a" stroke="#1a1a1a" stroke-width="0.12" transform="rotate(-90 374.80 808.00)">Gene significance for asthma severity and neutrophils</text>
<g fill="none" stroke="#47a6a4" stroke-width="0.95">
<circle cx="472.7" cy="745.1" r="1.95"/>
<circle cx="451.4" cy="758.4" r="1.95"/>
<circle cx="454.5" cy="766.6" r="1.95"/>
<circle cx="483.8" cy="767.2" r="1.95"/>
<circle cx="489.8" cy="769.5" r="1.95"/>
<circle cx="481.3" cy="774.5" r="1.95"/>
<circle cx="569.3" cy="692.8" r="1.95"/>
<circle cx="579.4" cy="723.5" r="1.95"/>
<circle cx="567.6" cy="734.2" r="1.95"/>
<circle cx="505.2" cy="739.1" r="1.95"/>
<circle cx="522.9" cy="745.8" r="1.95"/>
<circle cx="499.7" cy="753.9" r="1.95"/>
<circle cx="507.4" cy="763.1" r="1.95"/>
<circle cx="561.4" cy="762.0" r="1.95"/>
<circle cx="577.5" cy="759.7" r="1.95"/>
<circle cx="581.4" cy="765.1" r="1.95"/>
<circle cx="582.3" cy="770.5" r="1.95"/>
<circle cx="590.0" cy="760.1" r="1.95"/>
<circle cx="592.4" cy="756.5" r="1.95"/>
<circle cx="515.9" cy="769.9" r="1.95"/>
<circle cx="524.3" cy="769.9" r="1.95"/>
<circle cx="506.2" cy="775.5" r="1.95"/>
<circle cx="527.3" cy="776.1" r="1.95"/>
<circle cx="531.5" cy="776.9" r="1.95"/>
<circle cx="534.4" cy="778.5" r="1.95"/>
<circle cx="545.4" cy="775.2" r="1.95"/>
<circle cx="578.2" cy="776.6" r="1.95"/>
<circle cx="518.4" cy="780.2" r="1.95"/>
<circle cx="631.0" cy="719.7" r="1.95"/>
<circle cx="599.3" cy="731.4" r="1.95"/>
<circle cx="596.7" cy="736.1" r="1.95"/>
<circle cx="606.2" cy="735.0" r="1.95"/>
<circle cx="625.3" cy="737.4" r="1.95"/>
<circle cx="652.9" cy="729.2" r="1.95"/>
<circle cx="667.5" cy="736.6" r="1.95"/>
<circle cx="640.8" cy="743.2" r="1.95"/>
<circle cx="641.9" cy="747.4" r="1.95"/>
<circle cx="613.3" cy="754.5" r="1.95"/>
<circle cx="638.1" cy="756.8" r="1.95"/>
<circle cx="669.5" cy="756.5" r="1.95"/>
<circle cx="618.9" cy="764.4" r="1.95"/>
<circle cx="628.4" cy="763.6" r="1.95"/>
<circle cx="628.2" cy="769.8" r="1.95"/>
<circle cx="627.9" cy="775.9" r="1.95"/>
<circle cx="428.3" cy="796.5" r="1.95"/>
<circle cx="449.3" cy="799.5" r="1.95"/>
<circle cx="474.6" cy="805.2" r="1.95"/>
<circle cx="412.7" cy="813.8" r="1.95"/>
<circle cx="414.2" cy="816.0" r="1.95"/>
<circle cx="440.3" cy="813.7" r="1.95"/>
<circle cx="443.6" cy="814.9" r="1.95"/>
<circle cx="455.0" cy="815.1" r="1.95"/>
<circle cx="483.6" cy="811.1" r="1.95"/>
<circle cx="497.1" cy="807.8" r="1.95"/>
<circle cx="497.1" cy="814.7" r="1.95"/>
<circle cx="483.2" cy="819.2" r="1.95"/>
<circle cx="490.8" cy="822.4" r="1.95"/>
<circle cx="496.4" cy="822.2" r="1.95"/>
<circle cx="497.8" cy="824.3" r="1.95"/>
<circle cx="494.9" cy="827.6" r="1.95"/>
<circle cx="456.9" cy="825.4" r="1.95"/>
<circle cx="453.3" cy="827.3" r="1.95"/>
<circle cx="480.3" cy="828.7" r="1.95"/>
<circle cx="490.1" cy="831.0" r="1.95"/>
<circle cx="487.6" cy="833.1" r="1.95"/>
<circle cx="425.7" cy="831.1" r="1.95"/>
<circle cx="440.6" cy="834.0" r="1.95"/>
<circle cx="448.2" cy="834.6" r="1.95"/>
<circle cx="495.9" cy="838.9" r="1.95"/>
<circle cx="431.0" cy="839.8" r="1.95"/>
<circle cx="435.3" cy="843.9" r="1.95"/>
<circle cx="475.5" cy="842.9" r="1.95"/>
<circle cx="455.0" cy="845.2" r="1.95"/>
<circle cx="465.5" cy="847.3" r="1.95"/>
<circle cx="447.0" cy="846.8" r="1.95"/>
<circle cx="443.4" cy="848.7" r="1.95"/>
<circle cx="449.3" cy="850.5" r="1.95"/>
<circle cx="438.2" cy="851.1" r="1.95"/>
<circle cx="424.8" cy="853.0" r="1.95"/>
<circle cx="471.1" cy="852.5" r="1.95"/>
<circle cx="487.0" cy="851.5" r="1.95"/>
<circle cx="489.6" cy="850.3" r="1.95"/>
<circle cx="491.2" cy="854.3" r="1.95"/>
<circle cx="479.6" cy="856.0" r="1.95"/>
<circle cx="414.2" cy="857.5" r="1.95"/>
<circle cx="486.1" cy="857.6" r="1.95"/>
<circle cx="487.0" cy="858.9" r="1.95"/>
<circle cx="492.3" cy="856.0" r="1.95"/>
<circle cx="494.9" cy="858.6" r="1.95"/>
<circle cx="436.5" cy="859.2" r="1.95"/>
<circle cx="438.7" cy="859.7" r="1.95"/>
<circle cx="440.1" cy="862.3" r="1.95"/>
<circle cx="469.3" cy="859.7" r="1.95"/>
<circle cx="473.7" cy="862.2" r="1.95"/>
<circle cx="476.9" cy="860.7" r="1.95"/>
<circle cx="470.4" cy="863.8" r="1.95"/>
<circle cx="421.2" cy="865.5" r="1.95"/>
<circle cx="483.2" cy="865.5" r="1.95"/>
<circle cx="494.9" cy="867.1" r="1.95"/>
<circle cx="449.6" cy="868.4" r="1.95"/>
<circle cx="448.6" cy="870.9" r="1.95"/>
<circle cx="459.9" cy="871.8" r="1.95"/>
<circle cx="434.3" cy="874.0" r="1.95"/>
<circle cx="455.2" cy="874.3" r="1.95"/>
<circle cx="466.0" cy="874.3" r="1.95"/>
<circle cx="485.4" cy="874.3" r="1.95"/>
<circle cx="489.1" cy="871.6" r="1.95"/>
<circle cx="492.3" cy="873.1" r="1.95"/>
<circle cx="512.8" cy="781.9" r="1.95"/>
<circle cx="590.2" cy="782.3" r="1.95"/>
<circle cx="517.0" cy="790.8" r="1.95"/>
<circle cx="540.8" cy="788.0" r="1.95"/>
<circle cx="550.5" cy="789.5" r="1.95"/>
<circle cx="562.3" cy="791.8" r="1.95"/>
<circle cx="583.5" cy="790.6" r="1.95"/>
<circle cx="585.7" cy="793.7" r="1.95"/>
<circle cx="508.3" cy="794.7" r="1.95"/>
<circle cx="503.8" cy="800.4" r="1.95"/>
<circle cx="507.1" cy="800.7" r="1.95"/>
<circle cx="540.7" cy="801.9" r="1.95"/>
<circle cx="552.1" cy="798.8" r="1.95"/>
<circle cx="561.0" cy="801.3" r="1.95"/>
<circle cx="567.4" cy="807.8" r="1.95"/>
<circle cx="576.2" cy="810.0" r="1.95"/>
<circle cx="580.8" cy="810.5" r="1.95"/>
<circle cx="509.3" cy="814.7" r="1.95"/>
<circle cx="502.6" cy="817.8" r="1.95"/>
<circle cx="514.7" cy="819.2" r="1.95"/>
<circle cx="540.5" cy="819.4" r="1.95"/>
<circle cx="563.0" cy="815.7" r="1.95"/>
<circle cx="567.3" cy="814.1" r="1.95"/>
<circle cx="570.3" cy="817.9" r="1.95"/>
<circle cx="587.0" cy="821.0" r="1.95"/>
<circle cx="589.2" cy="822.2" r="1.95"/>
<circle cx="503.9" cy="822.7" r="1.95"/>
<circle cx="500.8" cy="830.0" r="1.95"/>
<circle cx="557.8" cy="829.6" r="1.95"/>
<circle cx="561.1" cy="829.2" r="1.95"/>
<circle cx="543.6" cy="834.4" r="1.95"/>
<circle cx="552.7" cy="838.2" r="1.95"/>
<circle cx="576.3" cy="838.6" r="1.95"/>
<circle cx="533.4" cy="840.7" r="1.95"/>
<circle cx="533.4" cy="842.7" r="1.95"/>
<circle cx="516.6" cy="846.1" r="1.95"/>
<circle cx="579.4" cy="844.6" r="1.95"/>
<circle cx="585.1" cy="849.3" r="1.95"/>
<circle cx="503.9" cy="848.9" r="1.95"/>
<circle cx="504.3" cy="853.8" r="1.95"/>
<circle cx="524.3" cy="852.1" r="1.95"/>
<circle cx="539.7" cy="848.4" r="1.95"/>
<circle cx="553.5" cy="850.8" r="1.95"/>
<circle cx="554.0" cy="853.5" r="1.95"/>
<circle cx="533.4" cy="855.6" r="1.95"/>
<circle cx="570.3" cy="855.1" r="1.95"/>
<circle cx="576.8" cy="859.1" r="1.95"/>
<circle cx="592.4" cy="857.5" r="1.95"/>
<circle cx="523.0" cy="858.9" r="1.95"/>
<circle cx="524.2" cy="861.4" r="1.95"/>
<circle cx="524.9" cy="862.3" r="1.95"/>
<circle cx="519.2" cy="864.3" r="1.95"/>
<circle cx="525.2" cy="866.2" r="1.95"/>
<circle cx="528.4" cy="867.3" r="1.95"/>
<circle cx="501.6" cy="866.2" r="1.95"/>
<circle cx="550.2" cy="865.9" r="1.95"/>
<circle cx="580.1" cy="865.7" r="1.95"/>
<circle cx="561.4" cy="868.7" r="1.95"/>
<circle cx="507.4" cy="874.0" r="1.95"/>
<circle cx="518.4" cy="872.8" r="1.95"/>
<circle cx="520.5" cy="873.1" r="1.95"/>
<circle cx="524.6" cy="872.5" r="1.95"/>
<circle cx="541.4" cy="873.1" r="1.95"/>
<circle cx="545.4" cy="875.5" r="1.95"/>
<circle cx="566.5" cy="875.5" r="1.95"/>
<circle cx="600.8" cy="782.0" r="1.95"/>
<circle cx="621.8" cy="783.0" r="1.95"/>
<circle cx="621.5" cy="785.7" r="1.95"/>
<circle cx="627.0" cy="784.5" r="1.95"/>
<circle cx="641.2" cy="786.7" r="1.95"/>
<circle cx="643.1" cy="784.9" r="1.95"/>
<circle cx="646.9" cy="783.3" r="1.95"/>
<circle cx="656.2" cy="787.4" r="1.95"/>
<circle cx="659.7" cy="789.5" r="1.95"/>
<circle cx="663.5" cy="787.6" r="1.95"/>
<circle cx="673.5" cy="784.3" r="1.95"/>
<circle cx="642.7" cy="793.2" r="1.95"/>
<circle cx="652.2" cy="794.0" r="1.95"/>
<circle cx="653.6" cy="792.5" r="1.95"/>
<circle cx="652.9" cy="793.2" r="1.95"/>
<circle cx="641.2" cy="799.4" r="1.95"/>
<circle cx="645.4" cy="798.1" r="1.95"/>
<circle cx="632.0" cy="803.2" r="1.95"/>
<circle cx="657.6" cy="801.0" r="1.95"/>
<circle cx="657.3" cy="805.2" r="1.95"/>
<circle cx="656.1" cy="808.1" r="1.95"/>
<circle cx="671.9" cy="801.0" r="1.95"/>
<circle cx="609.2" cy="811.8" r="1.95"/>
<circle cx="599.7" cy="815.9" r="1.95"/>
<circle cx="635.4" cy="818.1" r="1.95"/>
<circle cx="635.8" cy="820.7" r="1.95"/>
<circle cx="655.5" cy="817.2" r="1.95"/>
<circle cx="655.5" cy="824.1" r="1.95"/>
<circle cx="668.9" cy="822.2" r="1.95"/>
<circle cx="668.5" cy="824.9" r="1.95"/>
<circle cx="624.9" cy="833.8" r="1.95"/>
<circle cx="640.5" cy="834.3" r="1.95"/>
<circle cx="664.3" cy="834.9" r="1.95"/>
<circle cx="673.0" cy="831.6" r="1.95"/>
<circle cx="597.7" cy="842.4" r="1.95"/>
<circle cx="628.2" cy="846.2" r="1.95"/>
<circle cx="642.4" cy="843.0" r="1.95"/>
<circle cx="649.2" cy="847.3" r="1.95"/>
<circle cx="653.6" cy="852.4" r="1.95"/>
<circle cx="600.8" cy="850.9" r="1.95"/>
<circle cx="617.8" cy="851.9" r="1.95"/>
<circle cx="612.9" cy="858.5" r="1.95"/>
<circle cx="604.0" cy="863.6" r="1.95"/>
<circle cx="596.0" cy="875.0" r="1.95"/>
<circle cx="618.0" cy="874.7" r="1.95"/>
<circle cx="486.6" cy="878.4" r="1.95"/>
<circle cx="495.6" cy="876.0" r="1.95"/>
<circle cx="496.4" cy="879.3" r="1.95"/>
<circle cx="498.5" cy="879.6" r="1.95"/>
<circle cx="460.7" cy="878.9" r="1.95"/>
<circle cx="463.8" cy="879.6" r="1.95"/>
<circle cx="417.8" cy="884.3" r="1.95"/>
<circle cx="441.2" cy="885.4" r="1.95"/>
<circle cx="459.3" cy="886.6" r="1.95"/>
<circle cx="476.4" cy="884.3" r="1.95"/>
<circle cx="480.1" cy="887.9" r="1.95"/>
<circle cx="411.7" cy="892.0" r="1.95"/>
<circle cx="452.6" cy="890.7" r="1.95"/>
<circle cx="465.4" cy="890.1" r="1.95"/>
<circle cx="493.4" cy="891.3" r="1.95"/>
<circle cx="479.7" cy="895.1" r="1.95"/>
<circle cx="494.6" cy="894.8" r="1.95"/>
<circle cx="493.9" cy="897.8" r="1.95"/>
<circle cx="413.9" cy="898.9" r="1.95"/>
<circle cx="422.9" cy="900.0" r="1.95"/>
<circle cx="428.5" cy="900.5" r="1.95"/>
<circle cx="433.3" cy="899.3" r="1.95"/>
<circle cx="447.4" cy="899.6" r="1.95"/>
<circle cx="459.1" cy="898.9" r="1.95"/>
<circle cx="458.4" cy="901.2" r="1.95"/>
<circle cx="486.6" cy="899.0" r="1.95"/>
<circle cx="496.6" cy="901.2" r="1.95"/>
<circle cx="470.5" cy="904.1" r="1.95"/>
<circle cx="481.0" cy="902.7" r="1.95"/>
<circle cx="456.9" cy="903.8" r="1.95"/>
<circle cx="493.0" cy="904.4" r="1.95"/>
<circle cx="495.2" cy="906.6" r="1.95"/>
<circle cx="472.4" cy="907.6" r="1.95"/>
<circle cx="416.8" cy="907.6" r="1.95"/>
<circle cx="428.5" cy="907.0" r="1.95"/>
<circle cx="453.0" cy="907.0" r="1.95"/>
<circle cx="470.8" cy="909.8" r="1.95"/>
<circle cx="493.4" cy="909.1" r="1.95"/>
<circle cx="438.2" cy="912.4" r="1.95"/>
<circle cx="440.9" cy="911.7" r="1.95"/>
<circle cx="480.3" cy="912.0" r="1.95"/>
<circle cx="481.5" cy="912.9" r="1.95"/>
<circle cx="467.2" cy="915.4" r="1.95"/>
<circle cx="483.2" cy="917.1" r="1.95"/>
<circle cx="496.1" cy="915.1" r="1.95"/>
<circle cx="461.0" cy="917.6" r="1.95"/>
<circle cx="470.8" cy="919.5" r="1.95"/>
<circle cx="474.9" cy="918.0" r="1.95"/>
<circle cx="463.8" cy="921.2" r="1.95"/>
<circle cx="475.9" cy="920.8" r="1.95"/>
<circle cx="477.4" cy="921.9" r="1.95"/>
<circle cx="478.4" cy="923.1" r="1.95"/>
<circle cx="472.8" cy="923.1" r="1.95"/>
<circle cx="487.6" cy="921.2" r="1.95"/>
<circle cx="493.4" cy="923.4" r="1.95"/>
<circle cx="421.0" cy="919.9" r="1.95"/>
<circle cx="423.4" cy="925.6" r="1.95"/>
<circle cx="464.2" cy="926.8" r="1.95"/>
<circle cx="504.5" cy="878.1" r="1.95"/>
<circle cx="522.7" cy="881.1" r="1.95"/>
<circle cx="502.3" cy="884.3" r="1.95"/>
<circle cx="512.1" cy="886.2" r="1.95"/>
<circle cx="516.9" cy="887.6" r="1.95"/>
<circle cx="527.4" cy="888.1" r="1.95"/>
<circle cx="537.6" cy="883.5" r="1.95"/>
<circle cx="570.9" cy="884.4" r="1.95"/>
<circle cx="582.4" cy="885.3" r="1.95"/>
<circle cx="516.6" cy="894.1" r="1.95"/>
<circle cx="538.5" cy="892.4" r="1.95"/>
<circle cx="571.5" cy="893.2" r="1.95"/>
<circle cx="502.2" cy="896.8" r="1.95"/>
<circle cx="511.1" cy="896.4" r="1.95"/>
<circle cx="510.0" cy="899.5" r="1.95"/>
<circle cx="570.5" cy="898.9" r="1.95"/>
<circle cx="527.4" cy="900.2" r="1.95"/>
<circle cx="529.7" cy="903.7" r="1.95"/>
<circle cx="533.7" cy="904.7" r="1.95"/>
<circle cx="517.6" cy="904.6" r="1.95"/>
<circle cx="508.9" cy="906.6" r="1.95"/>
<circle cx="502.3" cy="908.5" r="1.95"/>
<circle cx="533.2" cy="908.8" r="1.95"/>
<circle cx="507.8" cy="911.0" r="1.95"/>
<circle cx="510.3" cy="912.4" r="1.95"/>
<circle cx="527.4" cy="911.4" r="1.95"/>
<circle cx="527.4" cy="915.8" r="1.95"/>
<circle cx="538.5" cy="914.6" r="1.95"/>
<circle cx="559.1" cy="911.0" r="1.95"/>
<circle cx="502.0" cy="915.7" r="1.95"/>
<circle cx="501.6" cy="920.9" r="1.95"/>
<circle cx="505.5" cy="919.9" r="1.95"/>
<circle cx="504.9" cy="923.4" r="1.95"/>
<circle cx="515.1" cy="919.3" r="1.95"/>
<circle cx="513.2" cy="923.8" r="1.95"/>
<circle cx="523.9" cy="924.6" r="1.95"/>
<circle cx="546.1" cy="919.6" r="1.95"/>
<circle cx="574.0" cy="920.5" r="1.95"/>
<circle cx="576.2" cy="923.1" r="1.95"/>
<circle cx="622.7" cy="887.5" r="1.95"/>
<circle cx="607.2" cy="893.8" r="1.95"/>
<circle cx="626.3" cy="894.9" r="1.95"/>
<circle cx="620.9" cy="901.1" r="1.95"/>
<circle cx="619.2" cy="904.4" r="1.95"/>
<circle cx="559.3" cy="911.3" r="1.95"/>
</g>
</svg></body></html>
